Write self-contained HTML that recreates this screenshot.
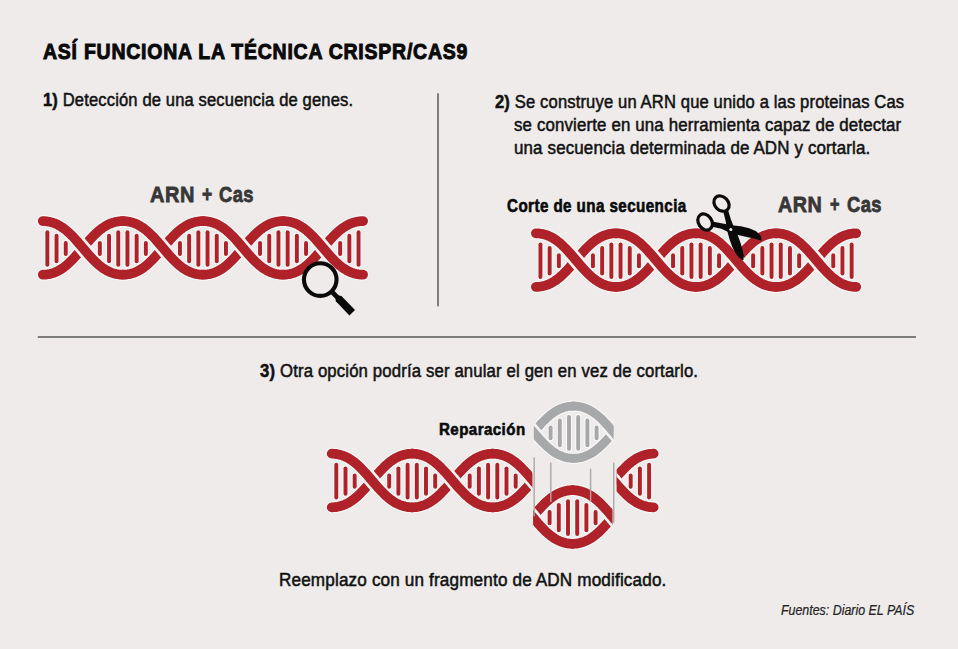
<!DOCTYPE html>
<html><head><meta charset="utf-8">
<style>
html,body{margin:0;padding:0;}
body{width:958px;height:649px;background:#eeebea;position:relative;overflow:hidden;font-family:"Liberation Sans",sans-serif;}
.t{position:absolute;white-space:nowrap;transform-origin:0 0;line-height:1;}
svg{position:absolute;left:0;top:0;}
</style></head><body>
<svg width="958" height="649" viewBox="0 0 958 649"><defs><clipPath id="cl1"><rect x="0" y="0" width="532.3" height="649"/><rect x="616.6" y="0" width="342" height="649"/></clipPath><clipPath id="cl2"><rect x="533.1" y="0" width="79.3" height="649"/></clipPath><clipPath id="cl3"><rect x="533.9" y="0" width="79.7" height="649"/></clipPath></defs>
<rect x="437" y="93.3" width="2" height="213" fill="#7d7d7d"/><rect x="37.8" y="336" width="878.2" height="2" fill="#7d7d7d"/><g fill="none" stroke="#fbfafa" stroke-linecap="round">
<path d="M42.75 274.70 L43.74 274.68 L44.73 274.64 L45.72 274.56 L46.71 274.46 L47.69 274.32 L48.68 274.15 L49.67 273.95 L50.66 273.71 L51.65 273.45 L52.64 273.15 L53.63 272.81 L54.62 272.45 L55.61 272.04 L56.59 271.60 L57.58 271.13 L58.57 270.62 L59.56 270.07 L60.55 269.48 L61.54 268.86 L62.53 268.19 L63.52 267.50 L64.51 266.76 L65.49 265.99 L66.48 265.18 L67.47 264.33 L68.46 263.46 L69.45 262.54 L70.44 261.60 L71.43 260.63 L72.42 259.62 L73.41 258.59 L74.39 257.54 L75.38 256.46 L76.37 255.36 L77.36 254.24 L78.35 253.11 L79.34 251.97 L80.33 250.81 L81.32 249.65 L82.31 248.48 L83.29 247.32 L84.28 246.15 L85.27 244.99 L86.26 243.83 L87.25 242.69 L88.24 241.56 L89.23 240.44 L90.22 239.34 L91.21 238.26 L92.19 237.21 L93.18 236.18 L94.17 235.17 L95.16 234.20 L96.15 233.26 L97.14 232.34 L98.13 231.47 L99.12 230.62 L100.11 229.81 L101.09 229.04 L102.08 228.30 L103.07 227.61 L104.06 226.94 L105.05 226.32 L106.04 225.73 L107.03 225.18 L108.02 224.67 L109.01 224.20 L109.99 223.76 L110.98 223.35 L111.97 222.99 L112.96 222.65 L113.95 222.35 L114.94 222.09 L115.93 221.85 L116.92 221.65 L117.91 221.48 L118.89 221.34 L119.88 221.24 L120.87 221.16 L121.86 221.12 L122.85 221.10" stroke-width="11.70"/>
<path d="M122.85 274.70 L123.84 274.68 L124.83 274.64 L125.82 274.56 L126.81 274.46 L127.79 274.32 L128.78 274.15 L129.77 273.95 L130.76 273.71 L131.75 273.45 L132.74 273.15 L133.73 272.81 L134.72 272.45 L135.71 272.04 L136.69 271.60 L137.68 271.13 L138.67 270.62 L139.66 270.07 L140.65 269.48 L141.64 268.86 L142.63 268.19 L143.62 267.50 L144.61 266.76 L145.59 265.99 L146.58 265.18 L147.57 264.33 L148.56 263.46 L149.55 262.54 L150.54 261.60 L151.53 260.63 L152.52 259.62 L153.51 258.59 L154.49 257.54 L155.48 256.46 L156.47 255.36 L157.46 254.24 L158.45 253.11 L159.44 251.97 L160.43 250.81 L161.42 249.65 L162.41 248.48 L163.39 247.32 L164.38 246.15 L165.37 244.99 L166.36 243.83 L167.35 242.69 L168.34 241.56 L169.33 240.44 L170.32 239.34 L171.31 238.26 L172.29 237.21 L173.28 236.18 L174.27 235.17 L175.26 234.20 L176.25 233.26 L177.24 232.34 L178.23 231.47 L179.22 230.62 L180.21 229.81 L181.19 229.04 L182.18 228.30 L183.17 227.61 L184.16 226.94 L185.15 226.32 L186.14 225.73 L187.13 225.18 L188.12 224.67 L189.11 224.20 L190.09 223.76 L191.08 223.35 L192.07 222.99 L193.06 222.65 L194.05 222.35 L195.04 222.09 L196.03 221.85 L197.02 221.65 L198.01 221.48 L198.99 221.34 L199.98 221.24 L200.97 221.16 L201.96 221.12 L202.95 221.10" stroke-width="11.70"/>
<path d="M202.95 274.70 L203.94 274.68 L204.93 274.64 L205.92 274.56 L206.91 274.46 L207.89 274.32 L208.88 274.15 L209.87 273.95 L210.86 273.71 L211.85 273.45 L212.84 273.15 L213.83 272.81 L214.82 272.45 L215.81 272.04 L216.79 271.60 L217.78 271.13 L218.77 270.62 L219.76 270.07 L220.75 269.48 L221.74 268.86 L222.73 268.19 L223.72 267.50 L224.71 266.76 L225.69 265.99 L226.68 265.18 L227.67 264.33 L228.66 263.46 L229.65 262.54 L230.64 261.60 L231.63 260.63 L232.62 259.62 L233.61 258.59 L234.59 257.54 L235.58 256.46 L236.57 255.36 L237.56 254.24 L238.55 253.11 L239.54 251.97 L240.53 250.81 L241.52 249.65 L242.51 248.48 L243.49 247.32 L244.48 246.15 L245.47 244.99 L246.46 243.83 L247.45 242.69 L248.44 241.56 L249.43 240.44 L250.42 239.34 L251.41 238.26 L252.39 237.21 L253.38 236.18 L254.37 235.17 L255.36 234.20 L256.35 233.26 L257.34 232.34 L258.33 231.47 L259.32 230.62 L260.31 229.81 L261.29 229.04 L262.28 228.30 L263.27 227.61 L264.26 226.94 L265.25 226.32 L266.24 225.73 L267.23 225.18 L268.22 224.67 L269.21 224.20 L270.19 223.76 L271.18 223.35 L272.17 222.99 L273.16 222.65 L274.15 222.35 L275.14 222.09 L276.13 221.85 L277.12 221.65 L278.11 221.48 L279.09 221.34 L280.08 221.24 L281.07 221.16 L282.06 221.12 L283.05 221.10" stroke-width="11.70"/>
<path d="M283.05 274.70 L284.04 274.68 L285.03 274.64 L286.02 274.56 L287.01 274.46 L287.99 274.32 L288.98 274.15 L289.97 273.95 L290.96 273.71 L291.95 273.45 L292.94 273.15 L293.93 272.81 L294.92 272.45 L295.91 272.04 L296.89 271.60 L297.88 271.13 L298.87 270.62 L299.86 270.07 L300.85 269.48 L301.84 268.86 L302.83 268.19 L303.82 267.50 L304.81 266.76 L305.79 265.99 L306.78 265.18 L307.77 264.33 L308.76 263.46 L309.75 262.54 L310.74 261.60 L311.73 260.63 L312.72 259.62 L313.71 258.59 L314.69 257.54 L315.68 256.46 L316.67 255.36 L317.66 254.24 L318.65 253.11 L319.64 251.97 L320.63 250.81 L321.62 249.65 L322.61 248.48 L323.59 247.32 L324.58 246.15 L325.57 244.99 L326.56 243.83 L327.55 242.69 L328.54 241.56 L329.53 240.44 L330.52 239.34 L331.51 238.26 L332.49 237.21 L333.48 236.18 L334.47 235.17 L335.46 234.20 L336.45 233.26 L337.44 232.34 L338.43 231.47 L339.42 230.62 L340.41 229.81 L341.39 229.04 L342.38 228.30 L343.37 227.61 L344.36 226.94 L345.35 226.32 L346.34 225.73 L347.33 225.18 L348.32 224.67 L349.31 224.20 L350.29 223.76 L351.28 223.35 L352.27 222.99 L353.26 222.65 L354.25 222.35 L355.24 222.09 L356.23 221.85 L357.22 221.65 L358.21 221.48 L359.19 221.34 L360.18 221.24 L361.17 221.16 L362.16 221.12 L363.15 221.10" stroke-width="11.70"/>
<path d="M42.75 221.10 L43.74 221.12 L44.73 221.16 L45.72 221.24 L46.71 221.34 L47.69 221.48 L48.68 221.65 L49.67 221.85 L50.66 222.09 L51.65 222.35 L52.64 222.65 L53.63 222.99 L54.62 223.35 L55.61 223.76 L56.59 224.20 L57.58 224.67 L58.57 225.18 L59.56 225.73 L60.55 226.32 L61.54 226.94 L62.53 227.61 L63.52 228.30 L64.51 229.04 L65.49 229.81 L66.48 230.62 L67.47 231.47 L68.46 232.34 L69.45 233.26 L70.44 234.20 L71.43 235.17 L72.42 236.18 L73.41 237.21 L74.39 238.26 L75.38 239.34 L76.37 240.44 L77.36 241.56 L78.35 242.69 L79.34 243.83 L80.33 244.99 L81.32 246.15 L82.31 247.32 L83.29 248.48 L84.28 249.65 L85.27 250.81 L86.26 251.97 L87.25 253.11 L88.24 254.24 L89.23 255.36 L90.22 256.46 L91.21 257.54 L92.19 258.59 L93.18 259.62 L94.17 260.63 L95.16 261.60 L96.15 262.54 L97.14 263.46 L98.13 264.33 L99.12 265.18 L100.11 265.99 L101.09 266.76 L102.08 267.50 L103.07 268.19 L104.06 268.86 L105.05 269.48 L106.04 270.07 L107.03 270.62 L108.02 271.13 L109.01 271.60 L109.99 272.04 L110.98 272.45 L111.97 272.81 L112.96 273.15 L113.95 273.45 L114.94 273.71 L115.93 273.95 L116.92 274.15 L117.91 274.32 L118.89 274.46 L119.88 274.56 L120.87 274.64 L121.86 274.68 L122.85 274.70" stroke-width="11.70"/>
<path d="M122.85 221.10 L123.84 221.12 L124.83 221.16 L125.82 221.24 L126.81 221.34 L127.79 221.48 L128.78 221.65 L129.77 221.85 L130.76 222.09 L131.75 222.35 L132.74 222.65 L133.73 222.99 L134.72 223.35 L135.71 223.76 L136.69 224.20 L137.68 224.67 L138.67 225.18 L139.66 225.73 L140.65 226.32 L141.64 226.94 L142.63 227.61 L143.62 228.30 L144.61 229.04 L145.59 229.81 L146.58 230.62 L147.57 231.47 L148.56 232.34 L149.55 233.26 L150.54 234.20 L151.53 235.17 L152.52 236.18 L153.51 237.21 L154.49 238.26 L155.48 239.34 L156.47 240.44 L157.46 241.56 L158.45 242.69 L159.44 243.83 L160.43 244.99 L161.42 246.15 L162.41 247.32 L163.39 248.48 L164.38 249.65 L165.37 250.81 L166.36 251.97 L167.35 253.11 L168.34 254.24 L169.33 255.36 L170.32 256.46 L171.31 257.54 L172.29 258.59 L173.28 259.62 L174.27 260.63 L175.26 261.60 L176.25 262.54 L177.24 263.46 L178.23 264.33 L179.22 265.18 L180.21 265.99 L181.19 266.76 L182.18 267.50 L183.17 268.19 L184.16 268.86 L185.15 269.48 L186.14 270.07 L187.13 270.62 L188.12 271.13 L189.11 271.60 L190.09 272.04 L191.08 272.45 L192.07 272.81 L193.06 273.15 L194.05 273.45 L195.04 273.71 L196.03 273.95 L197.02 274.15 L198.01 274.32 L198.99 274.46 L199.98 274.56 L200.97 274.64 L201.96 274.68 L202.95 274.70" stroke-width="11.70"/>
<path d="M202.95 221.10 L203.94 221.12 L204.93 221.16 L205.92 221.24 L206.91 221.34 L207.89 221.48 L208.88 221.65 L209.87 221.85 L210.86 222.09 L211.85 222.35 L212.84 222.65 L213.83 222.99 L214.82 223.35 L215.81 223.76 L216.79 224.20 L217.78 224.67 L218.77 225.18 L219.76 225.73 L220.75 226.32 L221.74 226.94 L222.73 227.61 L223.72 228.30 L224.71 229.04 L225.69 229.81 L226.68 230.62 L227.67 231.47 L228.66 232.34 L229.65 233.26 L230.64 234.20 L231.63 235.17 L232.62 236.18 L233.61 237.21 L234.59 238.26 L235.58 239.34 L236.57 240.44 L237.56 241.56 L238.55 242.69 L239.54 243.83 L240.53 244.99 L241.52 246.15 L242.51 247.32 L243.49 248.48 L244.48 249.65 L245.47 250.81 L246.46 251.97 L247.45 253.11 L248.44 254.24 L249.43 255.36 L250.42 256.46 L251.41 257.54 L252.39 258.59 L253.38 259.62 L254.37 260.63 L255.36 261.60 L256.35 262.54 L257.34 263.46 L258.33 264.33 L259.32 265.18 L260.31 265.99 L261.29 266.76 L262.28 267.50 L263.27 268.19 L264.26 268.86 L265.25 269.48 L266.24 270.07 L267.23 270.62 L268.22 271.13 L269.21 271.60 L270.19 272.04 L271.18 272.45 L272.17 272.81 L273.16 273.15 L274.15 273.45 L275.14 273.71 L276.13 273.95 L277.12 274.15 L278.11 274.32 L279.09 274.46 L280.08 274.56 L281.07 274.64 L282.06 274.68 L283.05 274.70" stroke-width="11.70"/>
<path d="M283.05 221.10 L284.04 221.12 L285.03 221.16 L286.02 221.24 L287.01 221.34 L287.99 221.48 L288.98 221.65 L289.97 221.85 L290.96 222.09 L291.95 222.35 L292.94 222.65 L293.93 222.99 L294.92 223.35 L295.91 223.76 L296.89 224.20 L297.88 224.67 L298.87 225.18 L299.86 225.73 L300.85 226.32 L301.84 226.94 L302.83 227.61 L303.82 228.30 L304.81 229.04 L305.79 229.81 L306.78 230.62 L307.77 231.47 L308.76 232.34 L309.75 233.26 L310.74 234.20 L311.73 235.17 L312.72 236.18 L313.71 237.21 L314.69 238.26 L315.68 239.34 L316.67 240.44 L317.66 241.56 L318.65 242.69 L319.64 243.83 L320.63 244.99 L321.62 246.15 L322.61 247.32 L323.59 248.48 L324.58 249.65 L325.57 250.81 L326.56 251.97 L327.55 253.11 L328.54 254.24 L329.53 255.36 L330.52 256.46 L331.51 257.54 L332.49 258.59 L333.48 259.62 L334.47 260.63 L335.46 261.60 L336.45 262.54 L337.44 263.46 L338.43 264.33 L339.42 265.18 L340.41 265.99 L341.39 266.76 L342.38 267.50 L343.37 268.19 L344.36 268.86 L345.35 269.48 L346.34 270.07 L347.33 270.62 L348.32 271.13 L349.31 271.60 L350.29 272.04 L351.28 272.45 L352.27 272.81 L353.26 273.15 L354.25 273.45 L355.24 273.71 L356.23 273.95 L357.22 274.15 L358.21 274.32 L359.19 274.46 L360.18 274.56 L361.17 274.64 L362.16 274.68 L363.15 274.70" stroke-width="11.70"/>
<path d="M47.35 232.15 L47.35 264.85" stroke-width="5.95"/>
<path d="M56.55 235.75 L56.55 261.25" stroke-width="5.95"/>
<path d="M65.75 242.95 L65.75 254.05" stroke-width="5.95"/>
<path d="M118.25 232.15 L118.25 264.85" stroke-width="5.95"/>
<path d="M127.45 232.15 L127.45 264.85" stroke-width="5.95"/>
<path d="M109.05 235.75 L109.05 261.25" stroke-width="5.95"/>
<path d="M136.65 235.75 L136.65 261.25" stroke-width="5.95"/>
<path d="M99.85 242.95 L99.85 254.05" stroke-width="5.95"/>
<path d="M145.85 242.95 L145.85 254.05" stroke-width="5.95"/>
<path d="M198.35 232.15 L198.35 264.85" stroke-width="5.95"/>
<path d="M207.55 232.15 L207.55 264.85" stroke-width="5.95"/>
<path d="M189.15 235.75 L189.15 261.25" stroke-width="5.95"/>
<path d="M216.75 235.75 L216.75 261.25" stroke-width="5.95"/>
<path d="M179.95 242.95 L179.95 254.05" stroke-width="5.95"/>
<path d="M225.95 242.95 L225.95 254.05" stroke-width="5.95"/>
<path d="M278.45 232.15 L278.45 264.85" stroke-width="5.95"/>
<path d="M287.65 232.15 L287.65 264.85" stroke-width="5.95"/>
<path d="M269.25 235.75 L269.25 261.25" stroke-width="5.95"/>
<path d="M296.85 235.75 L296.85 261.25" stroke-width="5.95"/>
<path d="M260.05 242.95 L260.05 254.05" stroke-width="5.95"/>
<path d="M306.05 242.95 L306.05 254.05" stroke-width="5.95"/>
<path d="M358.55 232.15 L358.55 264.85" stroke-width="5.95"/>
<path d="M349.35 235.75 L349.35 261.25" stroke-width="5.95"/>
<path d="M340.15 242.95 L340.15 254.05" stroke-width="5.95"/>
</g>
<g fill="none" stroke-linecap="round">
<path d="M47.35 232.15 L47.35 264.85" stroke="#b02229" stroke-width="3.95"/>
<path d="M56.55 235.75 L56.55 261.25" stroke="#b02229" stroke-width="3.95"/>
<path d="M65.75 242.95 L65.75 254.05" stroke="#b02229" stroke-width="3.95"/>
<path d="M118.25 232.15 L118.25 264.85" stroke="#b02229" stroke-width="3.95"/>
<path d="M127.45 232.15 L127.45 264.85" stroke="#b02229" stroke-width="3.95"/>
<path d="M109.05 235.75 L109.05 261.25" stroke="#b02229" stroke-width="3.95"/>
<path d="M136.65 235.75 L136.65 261.25" stroke="#b02229" stroke-width="3.95"/>
<path d="M99.85 242.95 L99.85 254.05" stroke="#b02229" stroke-width="3.95"/>
<path d="M145.85 242.95 L145.85 254.05" stroke="#b02229" stroke-width="3.95"/>
<path d="M198.35 232.15 L198.35 264.85" stroke="#b02229" stroke-width="3.95"/>
<path d="M207.55 232.15 L207.55 264.85" stroke="#b02229" stroke-width="3.95"/>
<path d="M189.15 235.75 L189.15 261.25" stroke="#b02229" stroke-width="3.95"/>
<path d="M216.75 235.75 L216.75 261.25" stroke="#b02229" stroke-width="3.95"/>
<path d="M179.95 242.95 L179.95 254.05" stroke="#b02229" stroke-width="3.95"/>
<path d="M225.95 242.95 L225.95 254.05" stroke="#b02229" stroke-width="3.95"/>
<path d="M278.45 232.15 L278.45 264.85" stroke="#b02229" stroke-width="3.95"/>
<path d="M287.65 232.15 L287.65 264.85" stroke="#b02229" stroke-width="3.95"/>
<path d="M269.25 235.75 L269.25 261.25" stroke="#b02229" stroke-width="3.95"/>
<path d="M296.85 235.75 L296.85 261.25" stroke="#b02229" stroke-width="3.95"/>
<path d="M260.05 242.95 L260.05 254.05" stroke="#b02229" stroke-width="3.95"/>
<path d="M306.05 242.95 L306.05 254.05" stroke="#b02229" stroke-width="3.95"/>
<path d="M358.55 232.15 L358.55 264.85" stroke="#b02229" stroke-width="3.95"/>
<path d="M349.35 235.75 L349.35 261.25" stroke="#b02229" stroke-width="3.95"/>
<path d="M340.15 242.95 L340.15 254.05" stroke="#b02229" stroke-width="3.95"/>
<path d="M42.75 274.70 L43.74 274.68 L44.73 274.64 L45.72 274.56 L46.71 274.46 L47.69 274.32 L48.68 274.15 L49.67 273.95 L50.66 273.71 L51.65 273.45 L52.64 273.15 L53.63 272.81 L54.62 272.45 L55.61 272.04 L56.59 271.60 L57.58 271.13 L58.57 270.62 L59.56 270.07 L60.55 269.48 L61.54 268.86 L62.53 268.19 L63.52 267.50 L64.51 266.76 L65.49 265.99 L66.48 265.18 L67.47 264.33 L68.46 263.46 L69.45 262.54 L70.44 261.60 L71.43 260.63 L72.42 259.62 L73.41 258.59 L74.39 257.54 L75.38 256.46 L76.37 255.36 L77.36 254.24 L78.35 253.11 L79.34 251.97 L80.33 250.81 L81.32 249.65 L82.31 248.48 L83.29 247.32 L84.28 246.15 L85.27 244.99 L86.26 243.83 L87.25 242.69 L88.24 241.56 L89.23 240.44 L90.22 239.34 L91.21 238.26 L92.19 237.21 L93.18 236.18 L94.17 235.17 L95.16 234.20 L96.15 233.26 L97.14 232.34 L98.13 231.47 L99.12 230.62 L100.11 229.81 L101.09 229.04 L102.08 228.30 L103.07 227.61 L104.06 226.94 L105.05 226.32 L106.04 225.73 L107.03 225.18 L108.02 224.67 L109.01 224.20 L109.99 223.76 L110.98 223.35 L111.97 222.99 L112.96 222.65 L113.95 222.35 L114.94 222.09 L115.93 221.85 L116.92 221.65 L117.91 221.48 L118.89 221.34 L119.88 221.24 L120.87 221.16 L121.86 221.12 L122.85 221.10" stroke="#b02229" stroke-width="9.70"/>
<path d="M122.85 274.70 L123.84 274.68 L124.83 274.64 L125.82 274.56 L126.81 274.46 L127.79 274.32 L128.78 274.15 L129.77 273.95 L130.76 273.71 L131.75 273.45 L132.74 273.15 L133.73 272.81 L134.72 272.45 L135.71 272.04 L136.69 271.60 L137.68 271.13 L138.67 270.62 L139.66 270.07 L140.65 269.48 L141.64 268.86 L142.63 268.19 L143.62 267.50 L144.61 266.76 L145.59 265.99 L146.58 265.18 L147.57 264.33 L148.56 263.46 L149.55 262.54 L150.54 261.60 L151.53 260.63 L152.52 259.62 L153.51 258.59 L154.49 257.54 L155.48 256.46 L156.47 255.36 L157.46 254.24 L158.45 253.11 L159.44 251.97 L160.43 250.81 L161.42 249.65 L162.41 248.48 L163.39 247.32 L164.38 246.15 L165.37 244.99 L166.36 243.83 L167.35 242.69 L168.34 241.56 L169.33 240.44 L170.32 239.34 L171.31 238.26 L172.29 237.21 L173.28 236.18 L174.27 235.17 L175.26 234.20 L176.25 233.26 L177.24 232.34 L178.23 231.47 L179.22 230.62 L180.21 229.81 L181.19 229.04 L182.18 228.30 L183.17 227.61 L184.16 226.94 L185.15 226.32 L186.14 225.73 L187.13 225.18 L188.12 224.67 L189.11 224.20 L190.09 223.76 L191.08 223.35 L192.07 222.99 L193.06 222.65 L194.05 222.35 L195.04 222.09 L196.03 221.85 L197.02 221.65 L198.01 221.48 L198.99 221.34 L199.98 221.24 L200.97 221.16 L201.96 221.12 L202.95 221.10" stroke="#b02229" stroke-width="9.70"/>
<path d="M202.95 274.70 L203.94 274.68 L204.93 274.64 L205.92 274.56 L206.91 274.46 L207.89 274.32 L208.88 274.15 L209.87 273.95 L210.86 273.71 L211.85 273.45 L212.84 273.15 L213.83 272.81 L214.82 272.45 L215.81 272.04 L216.79 271.60 L217.78 271.13 L218.77 270.62 L219.76 270.07 L220.75 269.48 L221.74 268.86 L222.73 268.19 L223.72 267.50 L224.71 266.76 L225.69 265.99 L226.68 265.18 L227.67 264.33 L228.66 263.46 L229.65 262.54 L230.64 261.60 L231.63 260.63 L232.62 259.62 L233.61 258.59 L234.59 257.54 L235.58 256.46 L236.57 255.36 L237.56 254.24 L238.55 253.11 L239.54 251.97 L240.53 250.81 L241.52 249.65 L242.51 248.48 L243.49 247.32 L244.48 246.15 L245.47 244.99 L246.46 243.83 L247.45 242.69 L248.44 241.56 L249.43 240.44 L250.42 239.34 L251.41 238.26 L252.39 237.21 L253.38 236.18 L254.37 235.17 L255.36 234.20 L256.35 233.26 L257.34 232.34 L258.33 231.47 L259.32 230.62 L260.31 229.81 L261.29 229.04 L262.28 228.30 L263.27 227.61 L264.26 226.94 L265.25 226.32 L266.24 225.73 L267.23 225.18 L268.22 224.67 L269.21 224.20 L270.19 223.76 L271.18 223.35 L272.17 222.99 L273.16 222.65 L274.15 222.35 L275.14 222.09 L276.13 221.85 L277.12 221.65 L278.11 221.48 L279.09 221.34 L280.08 221.24 L281.07 221.16 L282.06 221.12 L283.05 221.10" stroke="#b02229" stroke-width="9.70"/>
<path d="M283.05 274.70 L284.04 274.68 L285.03 274.64 L286.02 274.56 L287.01 274.46 L287.99 274.32 L288.98 274.15 L289.97 273.95 L290.96 273.71 L291.95 273.45 L292.94 273.15 L293.93 272.81 L294.92 272.45 L295.91 272.04 L296.89 271.60 L297.88 271.13 L298.87 270.62 L299.86 270.07 L300.85 269.48 L301.84 268.86 L302.83 268.19 L303.82 267.50 L304.81 266.76 L305.79 265.99 L306.78 265.18 L307.77 264.33 L308.76 263.46 L309.75 262.54 L310.74 261.60 L311.73 260.63 L312.72 259.62 L313.71 258.59 L314.69 257.54 L315.68 256.46 L316.67 255.36 L317.66 254.24 L318.65 253.11 L319.64 251.97 L320.63 250.81 L321.62 249.65 L322.61 248.48 L323.59 247.32 L324.58 246.15 L325.57 244.99 L326.56 243.83 L327.55 242.69 L328.54 241.56 L329.53 240.44 L330.52 239.34 L331.51 238.26 L332.49 237.21 L333.48 236.18 L334.47 235.17 L335.46 234.20 L336.45 233.26 L337.44 232.34 L338.43 231.47 L339.42 230.62 L340.41 229.81 L341.39 229.04 L342.38 228.30 L343.37 227.61 L344.36 226.94 L345.35 226.32 L346.34 225.73 L347.33 225.18 L348.32 224.67 L349.31 224.20 L350.29 223.76 L351.28 223.35 L352.27 222.99 L353.26 222.65 L354.25 222.35 L355.24 222.09 L356.23 221.85 L357.22 221.65 L358.21 221.48 L359.19 221.34 L360.18 221.24 L361.17 221.16 L362.16 221.12 L363.15 221.10" stroke="#b02229" stroke-width="9.70"/>
<path d="M75.80 239.80 L76.28 240.34 L76.77 240.88 L77.25 241.43 L77.73 241.98 L78.21 242.53 L78.70 243.09 L79.18 243.65 L79.66 244.21 L80.14 244.77 L80.63 245.34 L81.11 245.91 L81.59 246.48 L82.08 247.04 L82.56 247.61 L83.04 248.19 L83.52 248.76 L84.01 249.32 L84.49 249.89 L84.97 250.46 L85.46 251.03 L85.94 251.59 L86.42 252.15 L86.90 252.71 L87.39 253.27 L87.87 253.82 L88.35 254.37 L88.83 254.92 L89.32 255.46 L89.80 256.00" stroke="#f4f2f1" stroke-linecap="butt" stroke-width="15.10"/>
<path d="M42.75 221.10 L43.74 221.12 L44.73 221.16 L45.72 221.24 L46.71 221.34 L47.69 221.48 L48.68 221.65 L49.67 221.85 L50.66 222.09 L51.65 222.35 L52.64 222.65 L53.63 222.99 L54.62 223.35 L55.61 223.76 L56.59 224.20 L57.58 224.67 L58.57 225.18 L59.56 225.73 L60.55 226.32 L61.54 226.94 L62.53 227.61 L63.52 228.30 L64.51 229.04 L65.49 229.81 L66.48 230.62 L67.47 231.47 L68.46 232.34 L69.45 233.26 L70.44 234.20 L71.43 235.17 L72.42 236.18 L73.41 237.21 L74.39 238.26 L75.38 239.34 L76.37 240.44 L77.36 241.56 L78.35 242.69 L79.34 243.83 L80.33 244.99 L81.32 246.15 L82.31 247.32 L83.29 248.48 L84.28 249.65 L85.27 250.81 L86.26 251.97 L87.25 253.11 L88.24 254.24 L89.23 255.36 L90.22 256.46 L91.21 257.54 L92.19 258.59 L93.18 259.62 L94.17 260.63 L95.16 261.60 L96.15 262.54 L97.14 263.46 L98.13 264.33 L99.12 265.18 L100.11 265.99 L101.09 266.76 L102.08 267.50 L103.07 268.19 L104.06 268.86 L105.05 269.48 L106.04 270.07 L107.03 270.62 L108.02 271.13 L109.01 271.60 L109.99 272.04 L110.98 272.45 L111.97 272.81 L112.96 273.15 L113.95 273.45 L114.94 273.71 L115.93 273.95 L116.92 274.15 L117.91 274.32 L118.89 274.46 L119.88 274.56 L120.87 274.64 L121.86 274.68 L122.85 274.70" stroke="#b02229" stroke-width="9.70"/>
<path d="M155.90 239.80 L156.38 240.34 L156.87 240.88 L157.35 241.43 L157.83 241.98 L158.31 242.53 L158.80 243.09 L159.28 243.65 L159.76 244.21 L160.24 244.77 L160.73 245.34 L161.21 245.91 L161.69 246.48 L162.18 247.04 L162.66 247.61 L163.14 248.19 L163.62 248.76 L164.11 249.32 L164.59 249.89 L165.07 250.46 L165.56 251.03 L166.04 251.59 L166.52 252.15 L167.00 252.71 L167.49 253.27 L167.97 253.82 L168.45 254.37 L168.93 254.92 L169.42 255.46 L169.90 256.00" stroke="#f4f2f1" stroke-linecap="butt" stroke-width="15.10"/>
<path d="M122.85 221.10 L123.84 221.12 L124.83 221.16 L125.82 221.24 L126.81 221.34 L127.79 221.48 L128.78 221.65 L129.77 221.85 L130.76 222.09 L131.75 222.35 L132.74 222.65 L133.73 222.99 L134.72 223.35 L135.71 223.76 L136.69 224.20 L137.68 224.67 L138.67 225.18 L139.66 225.73 L140.65 226.32 L141.64 226.94 L142.63 227.61 L143.62 228.30 L144.61 229.04 L145.59 229.81 L146.58 230.62 L147.57 231.47 L148.56 232.34 L149.55 233.26 L150.54 234.20 L151.53 235.17 L152.52 236.18 L153.51 237.21 L154.49 238.26 L155.48 239.34 L156.47 240.44 L157.46 241.56 L158.45 242.69 L159.44 243.83 L160.43 244.99 L161.42 246.15 L162.41 247.32 L163.39 248.48 L164.38 249.65 L165.37 250.81 L166.36 251.97 L167.35 253.11 L168.34 254.24 L169.33 255.36 L170.32 256.46 L171.31 257.54 L172.29 258.59 L173.28 259.62 L174.27 260.63 L175.26 261.60 L176.25 262.54 L177.24 263.46 L178.23 264.33 L179.22 265.18 L180.21 265.99 L181.19 266.76 L182.18 267.50 L183.17 268.19 L184.16 268.86 L185.15 269.48 L186.14 270.07 L187.13 270.62 L188.12 271.13 L189.11 271.60 L190.09 272.04 L191.08 272.45 L192.07 272.81 L193.06 273.15 L194.05 273.45 L195.04 273.71 L196.03 273.95 L197.02 274.15 L198.01 274.32 L198.99 274.46 L199.98 274.56 L200.97 274.64 L201.96 274.68 L202.95 274.70" stroke="#b02229" stroke-width="9.70"/>
<path d="M236.00 239.80 L236.48 240.34 L236.97 240.88 L237.45 241.43 L237.93 241.98 L238.41 242.53 L238.90 243.09 L239.38 243.65 L239.86 244.21 L240.34 244.77 L240.83 245.34 L241.31 245.91 L241.79 246.48 L242.28 247.04 L242.76 247.61 L243.24 248.19 L243.72 248.76 L244.21 249.32 L244.69 249.89 L245.17 250.46 L245.66 251.03 L246.14 251.59 L246.62 252.15 L247.10 252.71 L247.59 253.27 L248.07 253.82 L248.55 254.37 L249.03 254.92 L249.52 255.46 L250.00 256.00" stroke="#f4f2f1" stroke-linecap="butt" stroke-width="15.10"/>
<path d="M202.95 221.10 L203.94 221.12 L204.93 221.16 L205.92 221.24 L206.91 221.34 L207.89 221.48 L208.88 221.65 L209.87 221.85 L210.86 222.09 L211.85 222.35 L212.84 222.65 L213.83 222.99 L214.82 223.35 L215.81 223.76 L216.79 224.20 L217.78 224.67 L218.77 225.18 L219.76 225.73 L220.75 226.32 L221.74 226.94 L222.73 227.61 L223.72 228.30 L224.71 229.04 L225.69 229.81 L226.68 230.62 L227.67 231.47 L228.66 232.34 L229.65 233.26 L230.64 234.20 L231.63 235.17 L232.62 236.18 L233.61 237.21 L234.59 238.26 L235.58 239.34 L236.57 240.44 L237.56 241.56 L238.55 242.69 L239.54 243.83 L240.53 244.99 L241.52 246.15 L242.51 247.32 L243.49 248.48 L244.48 249.65 L245.47 250.81 L246.46 251.97 L247.45 253.11 L248.44 254.24 L249.43 255.36 L250.42 256.46 L251.41 257.54 L252.39 258.59 L253.38 259.62 L254.37 260.63 L255.36 261.60 L256.35 262.54 L257.34 263.46 L258.33 264.33 L259.32 265.18 L260.31 265.99 L261.29 266.76 L262.28 267.50 L263.27 268.19 L264.26 268.86 L265.25 269.48 L266.24 270.07 L267.23 270.62 L268.22 271.13 L269.21 271.60 L270.19 272.04 L271.18 272.45 L272.17 272.81 L273.16 273.15 L274.15 273.45 L275.14 273.71 L276.13 273.95 L277.12 274.15 L278.11 274.32 L279.09 274.46 L280.08 274.56 L281.07 274.64 L282.06 274.68 L283.05 274.70" stroke="#b02229" stroke-width="9.70"/>
<path d="M316.10 239.80 L316.58 240.34 L317.07 240.88 L317.55 241.43 L318.03 241.98 L318.51 242.53 L319.00 243.09 L319.48 243.65 L319.96 244.21 L320.44 244.77 L320.93 245.34 L321.41 245.91 L321.89 246.48 L322.38 247.04 L322.86 247.61 L323.34 248.19 L323.82 248.76 L324.31 249.32 L324.79 249.89 L325.27 250.46 L325.76 251.03 L326.24 251.59 L326.72 252.15 L327.20 252.71 L327.69 253.27 L328.17 253.82 L328.65 254.37 L329.13 254.92 L329.62 255.46 L330.10 256.00" stroke="#f4f2f1" stroke-linecap="butt" stroke-width="15.10"/>
<path d="M283.05 221.10 L284.04 221.12 L285.03 221.16 L286.02 221.24 L287.01 221.34 L287.99 221.48 L288.98 221.65 L289.97 221.85 L290.96 222.09 L291.95 222.35 L292.94 222.65 L293.93 222.99 L294.92 223.35 L295.91 223.76 L296.89 224.20 L297.88 224.67 L298.87 225.18 L299.86 225.73 L300.85 226.32 L301.84 226.94 L302.83 227.61 L303.82 228.30 L304.81 229.04 L305.79 229.81 L306.78 230.62 L307.77 231.47 L308.76 232.34 L309.75 233.26 L310.74 234.20 L311.73 235.17 L312.72 236.18 L313.71 237.21 L314.69 238.26 L315.68 239.34 L316.67 240.44 L317.66 241.56 L318.65 242.69 L319.64 243.83 L320.63 244.99 L321.62 246.15 L322.61 247.32 L323.59 248.48 L324.58 249.65 L325.57 250.81 L326.56 251.97 L327.55 253.11 L328.54 254.24 L329.53 255.36 L330.52 256.46 L331.51 257.54 L332.49 258.59 L333.48 259.62 L334.47 260.63 L335.46 261.60 L336.45 262.54 L337.44 263.46 L338.43 264.33 L339.42 265.18 L340.41 265.99 L341.39 266.76 L342.38 267.50 L343.37 268.19 L344.36 268.86 L345.35 269.48 L346.34 270.07 L347.33 270.62 L348.32 271.13 L349.31 271.60 L350.29 272.04 L351.28 272.45 L352.27 272.81 L353.26 273.15 L354.25 273.45 L355.24 273.71 L356.23 273.95 L357.22 274.15 L358.21 274.32 L359.19 274.46 L360.18 274.56 L361.17 274.64 L362.16 274.68 L363.15 274.70" stroke="#b02229" stroke-width="9.70"/>
</g><circle cx="320.25" cy="279.6" r="16.3" fill="#eeebea" stroke="#0a0a0a" stroke-width="4.1"/><g transform="translate(320.25 279.6) rotate(46)"><rect x="17" y="-2.4" width="9" height="4.8" fill="#0a0a0a"/><path d="M24.5 -2.4 L26.5 -3.9 L46 -3.9 L46 3.9 L26.5 3.9 L24.5 2.4 Z" fill="#0a0a0a"/></g><g fill="none" stroke="#fbfafa" stroke-linecap="round">
<path d="M535.85 286.90 L536.84 286.88 L537.83 286.84 L538.82 286.76 L539.81 286.66 L540.79 286.52 L541.78 286.35 L542.77 286.15 L543.76 285.91 L544.75 285.65 L545.74 285.35 L546.73 285.01 L547.72 284.65 L548.71 284.24 L549.69 283.80 L550.68 283.33 L551.67 282.82 L552.66 282.27 L553.65 281.68 L554.64 281.06 L555.63 280.39 L556.62 279.70 L557.61 278.96 L558.59 278.19 L559.58 277.38 L560.57 276.53 L561.56 275.66 L562.55 274.74 L563.54 273.80 L564.53 272.83 L565.52 271.82 L566.51 270.79 L567.49 269.74 L568.48 268.66 L569.47 267.56 L570.46 266.44 L571.45 265.31 L572.44 264.17 L573.43 263.01 L574.42 261.85 L575.41 260.68 L576.39 259.52 L577.38 258.35 L578.37 257.19 L579.36 256.03 L580.35 254.89 L581.34 253.76 L582.33 252.64 L583.32 251.54 L584.31 250.46 L585.29 249.41 L586.28 248.38 L587.27 247.37 L588.26 246.40 L589.25 245.46 L590.24 244.54 L591.23 243.67 L592.22 242.82 L593.21 242.01 L594.19 241.24 L595.18 240.50 L596.17 239.81 L597.16 239.14 L598.15 238.52 L599.14 237.93 L600.13 237.38 L601.12 236.87 L602.11 236.40 L603.09 235.96 L604.08 235.55 L605.07 235.19 L606.06 234.85 L607.05 234.55 L608.04 234.29 L609.03 234.05 L610.02 233.85 L611.01 233.68 L611.99 233.54 L612.98 233.44 L613.97 233.36 L614.96 233.32 L615.95 233.30" stroke-width="11.70"/>
<path d="M615.95 286.90 L616.94 286.88 L617.93 286.84 L618.92 286.76 L619.91 286.66 L620.89 286.52 L621.88 286.35 L622.87 286.15 L623.86 285.91 L624.85 285.65 L625.84 285.35 L626.83 285.01 L627.82 284.65 L628.81 284.24 L629.79 283.80 L630.78 283.33 L631.77 282.82 L632.76 282.27 L633.75 281.68 L634.74 281.06 L635.73 280.39 L636.72 279.70 L637.71 278.96 L638.69 278.19 L639.68 277.38 L640.67 276.53 L641.66 275.66 L642.65 274.74 L643.64 273.80 L644.63 272.83 L645.62 271.82 L646.61 270.79 L647.59 269.74 L648.58 268.66 L649.57 267.56 L650.56 266.44 L651.55 265.31 L652.54 264.17 L653.53 263.01 L654.52 261.85 L655.51 260.68 L656.49 259.52 L657.48 258.35 L658.47 257.19 L659.46 256.03 L660.45 254.89 L661.44 253.76 L662.43 252.64 L663.42 251.54 L664.41 250.46 L665.39 249.41 L666.38 248.38 L667.37 247.37 L668.36 246.40 L669.35 245.46 L670.34 244.54 L671.33 243.67 L672.32 242.82 L673.31 242.01 L674.29 241.24 L675.28 240.50 L676.27 239.81 L677.26 239.14 L678.25 238.52 L679.24 237.93 L680.23 237.38 L681.22 236.87 L682.21 236.40 L683.19 235.96 L684.18 235.55 L685.17 235.19 L686.16 234.85 L687.15 234.55 L688.14 234.29 L689.13 234.05 L690.12 233.85 L691.11 233.68 L692.09 233.54 L693.08 233.44 L694.07 233.36 L695.06 233.32 L696.05 233.30" stroke-width="11.70"/>
<path d="M696.05 286.90 L697.04 286.88 L698.03 286.84 L699.02 286.76 L700.01 286.66 L700.99 286.52 L701.98 286.35 L702.97 286.15 L703.96 285.91 L704.95 285.65 L705.94 285.35 L706.93 285.01 L707.92 284.65 L708.91 284.24 L709.89 283.80 L710.88 283.33 L711.87 282.82 L712.86 282.27 L713.85 281.68 L714.84 281.06 L715.83 280.39 L716.82 279.70 L717.81 278.96 L718.79 278.19 L719.78 277.38 L720.77 276.53 L721.76 275.66 L722.75 274.74 L723.74 273.80 L724.73 272.83 L725.72 271.82 L726.71 270.79 L727.69 269.74 L728.68 268.66 L729.67 267.56 L730.66 266.44 L731.65 265.31 L732.64 264.17 L733.63 263.01 L734.62 261.85 L735.61 260.68 L736.59 259.52 L737.58 258.35 L738.57 257.19 L739.56 256.03 L740.55 254.89 L741.54 253.76 L742.53 252.64 L743.52 251.54 L744.51 250.46 L745.49 249.41 L746.48 248.38 L747.47 247.37 L748.46 246.40 L749.45 245.46 L750.44 244.54 L751.43 243.67 L752.42 242.82 L753.41 242.01 L754.39 241.24 L755.38 240.50 L756.37 239.81 L757.36 239.14 L758.35 238.52 L759.34 237.93 L760.33 237.38 L761.32 236.87 L762.31 236.40 L763.29 235.96 L764.28 235.55 L765.27 235.19 L766.26 234.85 L767.25 234.55 L768.24 234.29 L769.23 234.05 L770.22 233.85 L771.21 233.68 L772.19 233.54 L773.18 233.44 L774.17 233.36 L775.16 233.32 L776.15 233.30" stroke-width="11.70"/>
<path d="M776.15 286.90 L777.14 286.88 L778.13 286.84 L779.12 286.76 L780.11 286.66 L781.09 286.52 L782.08 286.35 L783.07 286.15 L784.06 285.91 L785.05 285.65 L786.04 285.35 L787.03 285.01 L788.02 284.65 L789.01 284.24 L789.99 283.80 L790.98 283.33 L791.97 282.82 L792.96 282.27 L793.95 281.68 L794.94 281.06 L795.93 280.39 L796.92 279.70 L797.91 278.96 L798.89 278.19 L799.88 277.38 L800.87 276.53 L801.86 275.66 L802.85 274.74 L803.84 273.80 L804.83 272.83 L805.82 271.82 L806.81 270.79 L807.79 269.74 L808.78 268.66 L809.77 267.56 L810.76 266.44 L811.75 265.31 L812.74 264.17 L813.73 263.01 L814.72 261.85 L815.71 260.68 L816.69 259.52 L817.68 258.35 L818.67 257.19 L819.66 256.03 L820.65 254.89 L821.64 253.76 L822.63 252.64 L823.62 251.54 L824.61 250.46 L825.59 249.41 L826.58 248.38 L827.57 247.37 L828.56 246.40 L829.55 245.46 L830.54 244.54 L831.53 243.67 L832.52 242.82 L833.51 242.01 L834.49 241.24 L835.48 240.50 L836.47 239.81 L837.46 239.14 L838.45 238.52 L839.44 237.93 L840.43 237.38 L841.42 236.87 L842.41 236.40 L843.39 235.96 L844.38 235.55 L845.37 235.19 L846.36 234.85 L847.35 234.55 L848.34 234.29 L849.33 234.05 L850.32 233.85 L851.31 233.68 L852.29 233.54 L853.28 233.44 L854.27 233.36 L855.26 233.32 L856.25 233.30" stroke-width="11.70"/>
<path d="M535.85 233.30 L536.84 233.32 L537.83 233.36 L538.82 233.44 L539.81 233.54 L540.79 233.68 L541.78 233.85 L542.77 234.05 L543.76 234.29 L544.75 234.55 L545.74 234.85 L546.73 235.19 L547.72 235.55 L548.71 235.96 L549.69 236.40 L550.68 236.87 L551.67 237.38 L552.66 237.93 L553.65 238.52 L554.64 239.14 L555.63 239.81 L556.62 240.50 L557.61 241.24 L558.59 242.01 L559.58 242.82 L560.57 243.67 L561.56 244.54 L562.55 245.46 L563.54 246.40 L564.53 247.37 L565.52 248.38 L566.51 249.41 L567.49 250.46 L568.48 251.54 L569.47 252.64 L570.46 253.76 L571.45 254.89 L572.44 256.03 L573.43 257.19 L574.42 258.35 L575.41 259.52 L576.39 260.68 L577.38 261.85 L578.37 263.01 L579.36 264.17 L580.35 265.31 L581.34 266.44 L582.33 267.56 L583.32 268.66 L584.31 269.74 L585.29 270.79 L586.28 271.82 L587.27 272.83 L588.26 273.80 L589.25 274.74 L590.24 275.66 L591.23 276.53 L592.22 277.38 L593.21 278.19 L594.19 278.96 L595.18 279.70 L596.17 280.39 L597.16 281.06 L598.15 281.68 L599.14 282.27 L600.13 282.82 L601.12 283.33 L602.11 283.80 L603.09 284.24 L604.08 284.65 L605.07 285.01 L606.06 285.35 L607.05 285.65 L608.04 285.91 L609.03 286.15 L610.02 286.35 L611.01 286.52 L611.99 286.66 L612.98 286.76 L613.97 286.84 L614.96 286.88 L615.95 286.90" stroke-width="11.70"/>
<path d="M615.95 233.30 L616.94 233.32 L617.93 233.36 L618.92 233.44 L619.91 233.54 L620.89 233.68 L621.88 233.85 L622.87 234.05 L623.86 234.29 L624.85 234.55 L625.84 234.85 L626.83 235.19 L627.82 235.55 L628.81 235.96 L629.79 236.40 L630.78 236.87 L631.77 237.38 L632.76 237.93 L633.75 238.52 L634.74 239.14 L635.73 239.81 L636.72 240.50 L637.71 241.24 L638.69 242.01 L639.68 242.82 L640.67 243.67 L641.66 244.54 L642.65 245.46 L643.64 246.40 L644.63 247.37 L645.62 248.38 L646.61 249.41 L647.59 250.46 L648.58 251.54 L649.57 252.64 L650.56 253.76 L651.55 254.89 L652.54 256.03 L653.53 257.19 L654.52 258.35 L655.51 259.52 L656.49 260.68 L657.48 261.85 L658.47 263.01 L659.46 264.17 L660.45 265.31 L661.44 266.44 L662.43 267.56 L663.42 268.66 L664.41 269.74 L665.39 270.79 L666.38 271.82 L667.37 272.83 L668.36 273.80 L669.35 274.74 L670.34 275.66 L671.33 276.53 L672.32 277.38 L673.31 278.19 L674.29 278.96 L675.28 279.70 L676.27 280.39 L677.26 281.06 L678.25 281.68 L679.24 282.27 L680.23 282.82 L681.22 283.33 L682.21 283.80 L683.19 284.24 L684.18 284.65 L685.17 285.01 L686.16 285.35 L687.15 285.65 L688.14 285.91 L689.13 286.15 L690.12 286.35 L691.11 286.52 L692.09 286.66 L693.08 286.76 L694.07 286.84 L695.06 286.88 L696.05 286.90" stroke-width="11.70"/>
<path d="M696.05 233.30 L697.04 233.32 L698.03 233.36 L699.02 233.44 L700.01 233.54 L700.99 233.68 L701.98 233.85 L702.97 234.05 L703.96 234.29 L704.95 234.55 L705.94 234.85 L706.93 235.19 L707.92 235.55 L708.91 235.96 L709.89 236.40 L710.88 236.87 L711.87 237.38 L712.86 237.93 L713.85 238.52 L714.84 239.14 L715.83 239.81 L716.82 240.50 L717.81 241.24 L718.79 242.01 L719.78 242.82 L720.77 243.67 L721.76 244.54 L722.75 245.46 L723.74 246.40 L724.73 247.37 L725.72 248.38 L726.71 249.41 L727.69 250.46 L728.68 251.54 L729.67 252.64 L730.66 253.76 L731.65 254.89 L732.64 256.03 L733.63 257.19 L734.62 258.35 L735.61 259.52 L736.59 260.68 L737.58 261.85 L738.57 263.01 L739.56 264.17 L740.55 265.31 L741.54 266.44 L742.53 267.56 L743.52 268.66 L744.51 269.74 L745.49 270.79 L746.48 271.82 L747.47 272.83 L748.46 273.80 L749.45 274.74 L750.44 275.66 L751.43 276.53 L752.42 277.38 L753.41 278.19 L754.39 278.96 L755.38 279.70 L756.37 280.39 L757.36 281.06 L758.35 281.68 L759.34 282.27 L760.33 282.82 L761.32 283.33 L762.31 283.80 L763.29 284.24 L764.28 284.65 L765.27 285.01 L766.26 285.35 L767.25 285.65 L768.24 285.91 L769.23 286.15 L770.22 286.35 L771.21 286.52 L772.19 286.66 L773.18 286.76 L774.17 286.84 L775.16 286.88 L776.15 286.90" stroke-width="11.70"/>
<path d="M776.15 233.30 L777.14 233.32 L778.13 233.36 L779.12 233.44 L780.11 233.54 L781.09 233.68 L782.08 233.85 L783.07 234.05 L784.06 234.29 L785.05 234.55 L786.04 234.85 L787.03 235.19 L788.02 235.55 L789.01 235.96 L789.99 236.40 L790.98 236.87 L791.97 237.38 L792.96 237.93 L793.95 238.52 L794.94 239.14 L795.93 239.81 L796.92 240.50 L797.91 241.24 L798.89 242.01 L799.88 242.82 L800.87 243.67 L801.86 244.54 L802.85 245.46 L803.84 246.40 L804.83 247.37 L805.82 248.38 L806.81 249.41 L807.79 250.46 L808.78 251.54 L809.77 252.64 L810.76 253.76 L811.75 254.89 L812.74 256.03 L813.73 257.19 L814.72 258.35 L815.71 259.52 L816.69 260.68 L817.68 261.85 L818.67 263.01 L819.66 264.17 L820.65 265.31 L821.64 266.44 L822.63 267.56 L823.62 268.66 L824.61 269.74 L825.59 270.79 L826.58 271.82 L827.57 272.83 L828.56 273.80 L829.55 274.74 L830.54 275.66 L831.53 276.53 L832.52 277.38 L833.51 278.19 L834.49 278.96 L835.48 279.70 L836.47 280.39 L837.46 281.06 L838.45 281.68 L839.44 282.27 L840.43 282.82 L841.42 283.33 L842.41 283.80 L843.39 284.24 L844.38 284.65 L845.37 285.01 L846.36 285.35 L847.35 285.65 L848.34 285.91 L849.33 286.15 L850.32 286.35 L851.31 286.52 L852.29 286.66 L853.28 286.76 L854.27 286.84 L855.26 286.88 L856.25 286.90" stroke-width="11.70"/>
<path d="M540.45 244.35 L540.45 277.05" stroke-width="5.95"/>
<path d="M549.65 247.95 L549.65 273.45" stroke-width="5.95"/>
<path d="M558.85 255.15 L558.85 266.25" stroke-width="5.95"/>
<path d="M611.35 244.35 L611.35 277.05" stroke-width="5.95"/>
<path d="M620.55 244.35 L620.55 277.05" stroke-width="5.95"/>
<path d="M602.15 247.95 L602.15 273.45" stroke-width="5.95"/>
<path d="M629.75 247.95 L629.75 273.45" stroke-width="5.95"/>
<path d="M592.95 255.15 L592.95 266.25" stroke-width="5.95"/>
<path d="M638.95 255.15 L638.95 266.25" stroke-width="5.95"/>
<path d="M691.45 244.35 L691.45 277.05" stroke-width="5.95"/>
<path d="M700.65 244.35 L700.65 277.05" stroke-width="5.95"/>
<path d="M682.25 247.95 L682.25 273.45" stroke-width="5.95"/>
<path d="M709.85 247.95 L709.85 273.45" stroke-width="5.95"/>
<path d="M673.05 255.15 L673.05 266.25" stroke-width="5.95"/>
<path d="M719.05 255.15 L719.05 266.25" stroke-width="5.95"/>
<path d="M771.55 244.35 L771.55 277.05" stroke-width="5.95"/>
<path d="M780.75 244.35 L780.75 277.05" stroke-width="5.95"/>
<path d="M762.35 247.95 L762.35 273.45" stroke-width="5.95"/>
<path d="M789.95 247.95 L789.95 273.45" stroke-width="5.95"/>
<path d="M753.15 255.15 L753.15 266.25" stroke-width="5.95"/>
<path d="M799.15 255.15 L799.15 266.25" stroke-width="5.95"/>
<path d="M851.65 244.35 L851.65 277.05" stroke-width="5.95"/>
<path d="M842.45 247.95 L842.45 273.45" stroke-width="5.95"/>
<path d="M833.25 255.15 L833.25 266.25" stroke-width="5.95"/>
</g>
<g fill="none" stroke-linecap="round">
<path d="M540.45 244.35 L540.45 277.05" stroke="#b02229" stroke-width="3.95"/>
<path d="M549.65 247.95 L549.65 273.45" stroke="#b02229" stroke-width="3.95"/>
<path d="M558.85 255.15 L558.85 266.25" stroke="#b02229" stroke-width="3.95"/>
<path d="M611.35 244.35 L611.35 277.05" stroke="#b02229" stroke-width="3.95"/>
<path d="M620.55 244.35 L620.55 277.05" stroke="#b02229" stroke-width="3.95"/>
<path d="M602.15 247.95 L602.15 273.45" stroke="#b02229" stroke-width="3.95"/>
<path d="M629.75 247.95 L629.75 273.45" stroke="#b02229" stroke-width="3.95"/>
<path d="M592.95 255.15 L592.95 266.25" stroke="#b02229" stroke-width="3.95"/>
<path d="M638.95 255.15 L638.95 266.25" stroke="#b02229" stroke-width="3.95"/>
<path d="M691.45 244.35 L691.45 277.05" stroke="#b02229" stroke-width="3.95"/>
<path d="M700.65 244.35 L700.65 277.05" stroke="#b02229" stroke-width="3.95"/>
<path d="M682.25 247.95 L682.25 273.45" stroke="#b02229" stroke-width="3.95"/>
<path d="M709.85 247.95 L709.85 273.45" stroke="#b02229" stroke-width="3.95"/>
<path d="M673.05 255.15 L673.05 266.25" stroke="#b02229" stroke-width="3.95"/>
<path d="M719.05 255.15 L719.05 266.25" stroke="#b02229" stroke-width="3.95"/>
<path d="M771.55 244.35 L771.55 277.05" stroke="#b02229" stroke-width="3.95"/>
<path d="M780.75 244.35 L780.75 277.05" stroke="#b02229" stroke-width="3.95"/>
<path d="M762.35 247.95 L762.35 273.45" stroke="#b02229" stroke-width="3.95"/>
<path d="M789.95 247.95 L789.95 273.45" stroke="#b02229" stroke-width="3.95"/>
<path d="M753.15 255.15 L753.15 266.25" stroke="#b02229" stroke-width="3.95"/>
<path d="M799.15 255.15 L799.15 266.25" stroke="#b02229" stroke-width="3.95"/>
<path d="M851.65 244.35 L851.65 277.05" stroke="#b02229" stroke-width="3.95"/>
<path d="M842.45 247.95 L842.45 273.45" stroke="#b02229" stroke-width="3.95"/>
<path d="M833.25 255.15 L833.25 266.25" stroke="#b02229" stroke-width="3.95"/>
<path d="M535.85 286.90 L536.84 286.88 L537.83 286.84 L538.82 286.76 L539.81 286.66 L540.79 286.52 L541.78 286.35 L542.77 286.15 L543.76 285.91 L544.75 285.65 L545.74 285.35 L546.73 285.01 L547.72 284.65 L548.71 284.24 L549.69 283.80 L550.68 283.33 L551.67 282.82 L552.66 282.27 L553.65 281.68 L554.64 281.06 L555.63 280.39 L556.62 279.70 L557.61 278.96 L558.59 278.19 L559.58 277.38 L560.57 276.53 L561.56 275.66 L562.55 274.74 L563.54 273.80 L564.53 272.83 L565.52 271.82 L566.51 270.79 L567.49 269.74 L568.48 268.66 L569.47 267.56 L570.46 266.44 L571.45 265.31 L572.44 264.17 L573.43 263.01 L574.42 261.85 L575.41 260.68 L576.39 259.52 L577.38 258.35 L578.37 257.19 L579.36 256.03 L580.35 254.89 L581.34 253.76 L582.33 252.64 L583.32 251.54 L584.31 250.46 L585.29 249.41 L586.28 248.38 L587.27 247.37 L588.26 246.40 L589.25 245.46 L590.24 244.54 L591.23 243.67 L592.22 242.82 L593.21 242.01 L594.19 241.24 L595.18 240.50 L596.17 239.81 L597.16 239.14 L598.15 238.52 L599.14 237.93 L600.13 237.38 L601.12 236.87 L602.11 236.40 L603.09 235.96 L604.08 235.55 L605.07 235.19 L606.06 234.85 L607.05 234.55 L608.04 234.29 L609.03 234.05 L610.02 233.85 L611.01 233.68 L611.99 233.54 L612.98 233.44 L613.97 233.36 L614.96 233.32 L615.95 233.30" stroke="#b02229" stroke-width="9.70"/>
<path d="M615.95 286.90 L616.94 286.88 L617.93 286.84 L618.92 286.76 L619.91 286.66 L620.89 286.52 L621.88 286.35 L622.87 286.15 L623.86 285.91 L624.85 285.65 L625.84 285.35 L626.83 285.01 L627.82 284.65 L628.81 284.24 L629.79 283.80 L630.78 283.33 L631.77 282.82 L632.76 282.27 L633.75 281.68 L634.74 281.06 L635.73 280.39 L636.72 279.70 L637.71 278.96 L638.69 278.19 L639.68 277.38 L640.67 276.53 L641.66 275.66 L642.65 274.74 L643.64 273.80 L644.63 272.83 L645.62 271.82 L646.61 270.79 L647.59 269.74 L648.58 268.66 L649.57 267.56 L650.56 266.44 L651.55 265.31 L652.54 264.17 L653.53 263.01 L654.52 261.85 L655.51 260.68 L656.49 259.52 L657.48 258.35 L658.47 257.19 L659.46 256.03 L660.45 254.89 L661.44 253.76 L662.43 252.64 L663.42 251.54 L664.41 250.46 L665.39 249.41 L666.38 248.38 L667.37 247.37 L668.36 246.40 L669.35 245.46 L670.34 244.54 L671.33 243.67 L672.32 242.82 L673.31 242.01 L674.29 241.24 L675.28 240.50 L676.27 239.81 L677.26 239.14 L678.25 238.52 L679.24 237.93 L680.23 237.38 L681.22 236.87 L682.21 236.40 L683.19 235.96 L684.18 235.55 L685.17 235.19 L686.16 234.85 L687.15 234.55 L688.14 234.29 L689.13 234.05 L690.12 233.85 L691.11 233.68 L692.09 233.54 L693.08 233.44 L694.07 233.36 L695.06 233.32 L696.05 233.30" stroke="#b02229" stroke-width="9.70"/>
<path d="M696.05 286.90 L697.04 286.88 L698.03 286.84 L699.02 286.76 L700.01 286.66 L700.99 286.52 L701.98 286.35 L702.97 286.15 L703.96 285.91 L704.95 285.65 L705.94 285.35 L706.93 285.01 L707.92 284.65 L708.91 284.24 L709.89 283.80 L710.88 283.33 L711.87 282.82 L712.86 282.27 L713.85 281.68 L714.84 281.06 L715.83 280.39 L716.82 279.70 L717.81 278.96 L718.79 278.19 L719.78 277.38 L720.77 276.53 L721.76 275.66 L722.75 274.74 L723.74 273.80 L724.73 272.83 L725.72 271.82 L726.71 270.79 L727.69 269.74 L728.68 268.66 L729.67 267.56 L730.66 266.44 L731.65 265.31 L732.64 264.17 L733.63 263.01 L734.62 261.85 L735.61 260.68 L736.59 259.52 L737.58 258.35 L738.57 257.19 L739.56 256.03 L740.55 254.89 L741.54 253.76 L742.53 252.64 L743.52 251.54 L744.51 250.46 L745.49 249.41 L746.48 248.38 L747.47 247.37 L748.46 246.40 L749.45 245.46 L750.44 244.54 L751.43 243.67 L752.42 242.82 L753.41 242.01 L754.39 241.24 L755.38 240.50 L756.37 239.81 L757.36 239.14 L758.35 238.52 L759.34 237.93 L760.33 237.38 L761.32 236.87 L762.31 236.40 L763.29 235.96 L764.28 235.55 L765.27 235.19 L766.26 234.85 L767.25 234.55 L768.24 234.29 L769.23 234.05 L770.22 233.85 L771.21 233.68 L772.19 233.54 L773.18 233.44 L774.17 233.36 L775.16 233.32 L776.15 233.30" stroke="#b02229" stroke-width="9.70"/>
<path d="M776.15 286.90 L777.14 286.88 L778.13 286.84 L779.12 286.76 L780.11 286.66 L781.09 286.52 L782.08 286.35 L783.07 286.15 L784.06 285.91 L785.05 285.65 L786.04 285.35 L787.03 285.01 L788.02 284.65 L789.01 284.24 L789.99 283.80 L790.98 283.33 L791.97 282.82 L792.96 282.27 L793.95 281.68 L794.94 281.06 L795.93 280.39 L796.92 279.70 L797.91 278.96 L798.89 278.19 L799.88 277.38 L800.87 276.53 L801.86 275.66 L802.85 274.74 L803.84 273.80 L804.83 272.83 L805.82 271.82 L806.81 270.79 L807.79 269.74 L808.78 268.66 L809.77 267.56 L810.76 266.44 L811.75 265.31 L812.74 264.17 L813.73 263.01 L814.72 261.85 L815.71 260.68 L816.69 259.52 L817.68 258.35 L818.67 257.19 L819.66 256.03 L820.65 254.89 L821.64 253.76 L822.63 252.64 L823.62 251.54 L824.61 250.46 L825.59 249.41 L826.58 248.38 L827.57 247.37 L828.56 246.40 L829.55 245.46 L830.54 244.54 L831.53 243.67 L832.52 242.82 L833.51 242.01 L834.49 241.24 L835.48 240.50 L836.47 239.81 L837.46 239.14 L838.45 238.52 L839.44 237.93 L840.43 237.38 L841.42 236.87 L842.41 236.40 L843.39 235.96 L844.38 235.55 L845.37 235.19 L846.36 234.85 L847.35 234.55 L848.34 234.29 L849.33 234.05 L850.32 233.85 L851.31 233.68 L852.29 233.54 L853.28 233.44 L854.27 233.36 L855.26 233.32 L856.25 233.30" stroke="#b02229" stroke-width="9.70"/>
<path d="M568.90 252.00 L569.38 252.54 L569.87 253.08 L570.35 253.63 L570.83 254.18 L571.31 254.73 L571.80 255.29 L572.28 255.85 L572.76 256.41 L573.24 256.97 L573.73 257.54 L574.21 258.11 L574.69 258.68 L575.18 259.24 L575.66 259.81 L576.14 260.39 L576.62 260.96 L577.11 261.52 L577.59 262.09 L578.07 262.66 L578.56 263.23 L579.04 263.79 L579.52 264.35 L580.00 264.91 L580.49 265.47 L580.97 266.02 L581.45 266.57 L581.93 267.12 L582.42 267.66 L582.90 268.20" stroke="#f4f2f1" stroke-linecap="butt" stroke-width="15.10"/>
<path d="M535.85 233.30 L536.84 233.32 L537.83 233.36 L538.82 233.44 L539.81 233.54 L540.79 233.68 L541.78 233.85 L542.77 234.05 L543.76 234.29 L544.75 234.55 L545.74 234.85 L546.73 235.19 L547.72 235.55 L548.71 235.96 L549.69 236.40 L550.68 236.87 L551.67 237.38 L552.66 237.93 L553.65 238.52 L554.64 239.14 L555.63 239.81 L556.62 240.50 L557.61 241.24 L558.59 242.01 L559.58 242.82 L560.57 243.67 L561.56 244.54 L562.55 245.46 L563.54 246.40 L564.53 247.37 L565.52 248.38 L566.51 249.41 L567.49 250.46 L568.48 251.54 L569.47 252.64 L570.46 253.76 L571.45 254.89 L572.44 256.03 L573.43 257.19 L574.42 258.35 L575.41 259.52 L576.39 260.68 L577.38 261.85 L578.37 263.01 L579.36 264.17 L580.35 265.31 L581.34 266.44 L582.33 267.56 L583.32 268.66 L584.31 269.74 L585.29 270.79 L586.28 271.82 L587.27 272.83 L588.26 273.80 L589.25 274.74 L590.24 275.66 L591.23 276.53 L592.22 277.38 L593.21 278.19 L594.19 278.96 L595.18 279.70 L596.17 280.39 L597.16 281.06 L598.15 281.68 L599.14 282.27 L600.13 282.82 L601.12 283.33 L602.11 283.80 L603.09 284.24 L604.08 284.65 L605.07 285.01 L606.06 285.35 L607.05 285.65 L608.04 285.91 L609.03 286.15 L610.02 286.35 L611.01 286.52 L611.99 286.66 L612.98 286.76 L613.97 286.84 L614.96 286.88 L615.95 286.90" stroke="#b02229" stroke-width="9.70"/>
<path d="M649.00 252.00 L649.48 252.54 L649.97 253.08 L650.45 253.63 L650.93 254.18 L651.41 254.73 L651.90 255.29 L652.38 255.85 L652.86 256.41 L653.34 256.97 L653.83 257.54 L654.31 258.11 L654.79 258.68 L655.28 259.24 L655.76 259.81 L656.24 260.39 L656.72 260.96 L657.21 261.52 L657.69 262.09 L658.17 262.66 L658.66 263.23 L659.14 263.79 L659.62 264.35 L660.10 264.91 L660.59 265.47 L661.07 266.02 L661.55 266.57 L662.03 267.12 L662.52 267.66 L663.00 268.20" stroke="#f4f2f1" stroke-linecap="butt" stroke-width="15.10"/>
<path d="M615.95 233.30 L616.94 233.32 L617.93 233.36 L618.92 233.44 L619.91 233.54 L620.89 233.68 L621.88 233.85 L622.87 234.05 L623.86 234.29 L624.85 234.55 L625.84 234.85 L626.83 235.19 L627.82 235.55 L628.81 235.96 L629.79 236.40 L630.78 236.87 L631.77 237.38 L632.76 237.93 L633.75 238.52 L634.74 239.14 L635.73 239.81 L636.72 240.50 L637.71 241.24 L638.69 242.01 L639.68 242.82 L640.67 243.67 L641.66 244.54 L642.65 245.46 L643.64 246.40 L644.63 247.37 L645.62 248.38 L646.61 249.41 L647.59 250.46 L648.58 251.54 L649.57 252.64 L650.56 253.76 L651.55 254.89 L652.54 256.03 L653.53 257.19 L654.52 258.35 L655.51 259.52 L656.49 260.68 L657.48 261.85 L658.47 263.01 L659.46 264.17 L660.45 265.31 L661.44 266.44 L662.43 267.56 L663.42 268.66 L664.41 269.74 L665.39 270.79 L666.38 271.82 L667.37 272.83 L668.36 273.80 L669.35 274.74 L670.34 275.66 L671.33 276.53 L672.32 277.38 L673.31 278.19 L674.29 278.96 L675.28 279.70 L676.27 280.39 L677.26 281.06 L678.25 281.68 L679.24 282.27 L680.23 282.82 L681.22 283.33 L682.21 283.80 L683.19 284.24 L684.18 284.65 L685.17 285.01 L686.16 285.35 L687.15 285.65 L688.14 285.91 L689.13 286.15 L690.12 286.35 L691.11 286.52 L692.09 286.66 L693.08 286.76 L694.07 286.84 L695.06 286.88 L696.05 286.90" stroke="#b02229" stroke-width="9.70"/>
<path d="M729.10 252.00 L729.58 252.54 L730.07 253.08 L730.55 253.63 L731.03 254.18 L731.51 254.73 L732.00 255.29 L732.48 255.85 L732.96 256.41 L733.44 256.97 L733.93 257.54 L734.41 258.11 L734.89 258.68 L735.38 259.24 L735.86 259.81 L736.34 260.39 L736.82 260.96 L737.31 261.52 L737.79 262.09 L738.27 262.66 L738.76 263.23 L739.24 263.79 L739.72 264.35 L740.20 264.91 L740.69 265.47 L741.17 266.02 L741.65 266.57 L742.13 267.12 L742.62 267.66 L743.10 268.20" stroke="#f4f2f1" stroke-linecap="butt" stroke-width="15.10"/>
<path d="M696.05 233.30 L697.04 233.32 L698.03 233.36 L699.02 233.44 L700.01 233.54 L700.99 233.68 L701.98 233.85 L702.97 234.05 L703.96 234.29 L704.95 234.55 L705.94 234.85 L706.93 235.19 L707.92 235.55 L708.91 235.96 L709.89 236.40 L710.88 236.87 L711.87 237.38 L712.86 237.93 L713.85 238.52 L714.84 239.14 L715.83 239.81 L716.82 240.50 L717.81 241.24 L718.79 242.01 L719.78 242.82 L720.77 243.67 L721.76 244.54 L722.75 245.46 L723.74 246.40 L724.73 247.37 L725.72 248.38 L726.71 249.41 L727.69 250.46 L728.68 251.54 L729.67 252.64 L730.66 253.76 L731.65 254.89 L732.64 256.03 L733.63 257.19 L734.62 258.35 L735.61 259.52 L736.59 260.68 L737.58 261.85 L738.57 263.01 L739.56 264.17 L740.55 265.31 L741.54 266.44 L742.53 267.56 L743.52 268.66 L744.51 269.74 L745.49 270.79 L746.48 271.82 L747.47 272.83 L748.46 273.80 L749.45 274.74 L750.44 275.66 L751.43 276.53 L752.42 277.38 L753.41 278.19 L754.39 278.96 L755.38 279.70 L756.37 280.39 L757.36 281.06 L758.35 281.68 L759.34 282.27 L760.33 282.82 L761.32 283.33 L762.31 283.80 L763.29 284.24 L764.28 284.65 L765.27 285.01 L766.26 285.35 L767.25 285.65 L768.24 285.91 L769.23 286.15 L770.22 286.35 L771.21 286.52 L772.19 286.66 L773.18 286.76 L774.17 286.84 L775.16 286.88 L776.15 286.90" stroke="#b02229" stroke-width="9.70"/>
<path d="M809.20 252.00 L809.68 252.54 L810.17 253.08 L810.65 253.63 L811.13 254.18 L811.61 254.73 L812.10 255.29 L812.58 255.85 L813.06 256.41 L813.54 256.97 L814.03 257.54 L814.51 258.11 L814.99 258.68 L815.48 259.24 L815.96 259.81 L816.44 260.39 L816.92 260.96 L817.41 261.52 L817.89 262.09 L818.37 262.66 L818.86 263.23 L819.34 263.79 L819.82 264.35 L820.30 264.91 L820.79 265.47 L821.27 266.02 L821.75 266.57 L822.23 267.12 L822.72 267.66 L823.20 268.20" stroke="#f4f2f1" stroke-linecap="butt" stroke-width="15.10"/>
<path d="M776.15 233.30 L777.14 233.32 L778.13 233.36 L779.12 233.44 L780.11 233.54 L781.09 233.68 L782.08 233.85 L783.07 234.05 L784.06 234.29 L785.05 234.55 L786.04 234.85 L787.03 235.19 L788.02 235.55 L789.01 235.96 L789.99 236.40 L790.98 236.87 L791.97 237.38 L792.96 237.93 L793.95 238.52 L794.94 239.14 L795.93 239.81 L796.92 240.50 L797.91 241.24 L798.89 242.01 L799.88 242.82 L800.87 243.67 L801.86 244.54 L802.85 245.46 L803.84 246.40 L804.83 247.37 L805.82 248.38 L806.81 249.41 L807.79 250.46 L808.78 251.54 L809.77 252.64 L810.76 253.76 L811.75 254.89 L812.74 256.03 L813.73 257.19 L814.72 258.35 L815.71 259.52 L816.69 260.68 L817.68 261.85 L818.67 263.01 L819.66 264.17 L820.65 265.31 L821.64 266.44 L822.63 267.56 L823.62 268.66 L824.61 269.74 L825.59 270.79 L826.58 271.82 L827.57 272.83 L828.56 273.80 L829.55 274.74 L830.54 275.66 L831.53 276.53 L832.52 277.38 L833.51 278.19 L834.49 278.96 L835.48 279.70 L836.47 280.39 L837.46 281.06 L838.45 281.68 L839.44 282.27 L840.43 282.82 L841.42 283.33 L842.41 283.80 L843.39 284.24 L844.38 284.65 L845.37 285.01 L846.36 285.35 L847.35 285.65 L848.34 285.91 L849.33 286.15 L850.32 286.35 L851.31 286.52 L852.29 286.66 L853.28 286.76 L854.27 286.84 L855.26 286.88 L856.25 286.90" stroke="#b02229" stroke-width="9.70"/>
</g><g fill="none" stroke="#0a0a0a" stroke-width="3.2"><ellipse cx="721.5" cy="203.6" rx="8.5" ry="6.7" transform="rotate(45 721.5 203.6)"/><ellipse cx="705.1" cy="222.0" rx="8.6" ry="6.6" transform="rotate(55 705.1 222.0)"/></g><path fill="#0a0a0a" d="M710.99 226.45 L721.32 228.81 L729.86 232.68 L739.06 235.30 L746.78 237.03 L752.89 238.35 L757.36 239.62 L761.10 240.66 L761.70 240.14 L760.64 235.58 L756.11 231.25 L749.22 228.17 L740.94 226.30 L731.74 225.32 L722.68 223.59 L712.01 221.55Z"/><path fill="#0a0a0a" d="M723.19 211.16 L725.59 220.71 L727.18 230.75 L729.28 238.57 L732.09 246.61 L735.42 253.06 L739.05 257.61 L742.55 260.21 L743.45 259.79 L743.75 255.39 L742.58 249.94 L740.71 243.39 L737.92 235.43 L734.42 228.45 L730.81 219.29 L728.01 209.84Z"/><circle cx="730.8" cy="229.6" r="1.5" fill="#eeeeee"/><g clip-path="url(#cl1)"><g fill="none" stroke="#fbfafa" stroke-linecap="round">
<path d="M331.70 507.30 L332.69 507.28 L333.69 507.24 L334.68 507.16 L335.68 507.06 L336.67 506.92 L337.66 506.75 L338.66 506.55 L339.65 506.31 L340.64 506.05 L341.64 505.75 L342.63 505.41 L343.63 505.05 L344.62 504.64 L345.61 504.20 L346.61 503.73 L347.60 503.22 L348.60 502.67 L349.59 502.08 L350.58 501.46 L351.58 500.79 L352.57 500.10 L353.56 499.36 L354.56 498.59 L355.55 497.78 L356.55 496.93 L357.54 496.06 L358.53 495.14 L359.53 494.20 L360.52 493.23 L361.51 492.22 L362.51 491.19 L363.50 490.14 L364.50 489.06 L365.49 487.96 L366.48 486.84 L367.48 485.71 L368.47 484.57 L369.47 483.41 L370.46 482.25 L371.45 481.08 L372.45 479.92 L373.44 478.75 L374.43 477.59 L375.43 476.43 L376.42 475.29 L377.42 474.16 L378.41 473.04 L379.40 471.94 L380.40 470.86 L381.39 469.81 L382.39 468.78 L383.38 467.77 L384.37 466.80 L385.37 465.86 L386.36 464.94 L387.35 464.07 L388.35 463.22 L389.34 462.41 L390.34 461.64 L391.33 460.90 L392.32 460.21 L393.32 459.54 L394.31 458.92 L395.30 458.33 L396.30 457.78 L397.29 457.27 L398.29 456.80 L399.28 456.36 L400.27 455.95 L401.27 455.59 L402.26 455.25 L403.26 454.95 L404.25 454.69 L405.24 454.45 L406.24 454.25 L407.23 454.08 L408.22 453.94 L409.22 453.84 L410.21 453.76 L411.21 453.72 L412.20 453.70" stroke-width="11.70"/>
<path d="M412.20 507.30 L413.19 507.28 L414.19 507.24 L415.18 507.16 L416.18 507.06 L417.17 506.92 L418.16 506.75 L419.16 506.55 L420.15 506.31 L421.14 506.05 L422.14 505.75 L423.13 505.41 L424.13 505.05 L425.12 504.64 L426.11 504.20 L427.11 503.73 L428.10 503.22 L429.10 502.67 L430.09 502.08 L431.08 501.46 L432.08 500.79 L433.07 500.10 L434.06 499.36 L435.06 498.59 L436.05 497.78 L437.05 496.93 L438.04 496.06 L439.03 495.14 L440.03 494.20 L441.02 493.23 L442.01 492.22 L443.01 491.19 L444.00 490.14 L445.00 489.06 L445.99 487.96 L446.98 486.84 L447.98 485.71 L448.97 484.57 L449.97 483.41 L450.96 482.25 L451.95 481.08 L452.95 479.92 L453.94 478.75 L454.93 477.59 L455.93 476.43 L456.92 475.29 L457.92 474.16 L458.91 473.04 L459.90 471.94 L460.90 470.86 L461.89 469.81 L462.89 468.78 L463.88 467.77 L464.87 466.80 L465.87 465.86 L466.86 464.94 L467.85 464.07 L468.85 463.22 L469.84 462.41 L470.84 461.64 L471.83 460.90 L472.82 460.21 L473.82 459.54 L474.81 458.92 L475.80 458.33 L476.80 457.78 L477.79 457.27 L478.79 456.80 L479.78 456.36 L480.77 455.95 L481.77 455.59 L482.76 455.25 L483.76 454.95 L484.75 454.69 L485.74 454.45 L486.74 454.25 L487.73 454.08 L488.72 453.94 L489.72 453.84 L490.71 453.76 L491.71 453.72 L492.70 453.70" stroke-width="11.70"/>
<path d="M492.70 507.30 L493.69 507.28 L494.69 507.24 L495.68 507.16 L496.68 507.06 L497.67 506.92 L498.66 506.75 L499.66 506.55 L500.65 506.31 L501.64 506.05 L502.64 505.75 L503.63 505.41 L504.63 505.05 L505.62 504.64 L506.61 504.20 L507.61 503.73 L508.60 503.22 L509.60 502.67 L510.59 502.08 L511.58 501.46 L512.58 500.79 L513.57 500.10 L514.56 499.36 L515.56 498.59 L516.55 497.78 L517.55 496.93 L518.54 496.06 L519.53 495.14 L520.53 494.20 L521.52 493.23 L522.51 492.22 L523.51 491.19 L524.50 490.14 L525.50 489.06 L526.49 487.96 L527.48 486.84 L528.48 485.71 L529.47 484.57 L530.47 483.41 L531.46 482.25 L532.45 481.08 L533.45 479.92 L534.44 478.75 L535.43 477.59 L536.43 476.43 L537.42 475.29 L538.42 474.16 L539.41 473.04 L540.40 471.94 L541.40 470.86 L542.39 469.81 L543.39 468.78 L544.38 467.77 L545.37 466.80 L546.37 465.86 L547.36 464.94 L548.35 464.07 L549.35 463.22 L550.34 462.41 L551.34 461.64 L552.33 460.90 L553.32 460.21 L554.32 459.54 L555.31 458.92 L556.30 458.33 L557.30 457.78 L558.29 457.27 L559.29 456.80 L560.28 456.36 L561.27 455.95 L562.27 455.59 L563.26 455.25 L564.26 454.95 L565.25 454.69 L566.24 454.45 L567.24 454.25 L568.23 454.08 L569.22 453.94 L570.22 453.84 L571.21 453.76 L572.21 453.72 L573.20 453.70" stroke-width="11.70"/>
<path d="M573.20 507.30 L574.19 507.28 L575.19 507.24 L576.18 507.16 L577.18 507.06 L578.17 506.92 L579.16 506.75 L580.16 506.55 L581.15 506.31 L582.14 506.05 L583.14 505.75 L584.13 505.41 L585.13 505.05 L586.12 504.64 L587.11 504.20 L588.11 503.73 L589.10 503.22 L590.10 502.67 L591.09 502.08 L592.08 501.46 L593.08 500.79 L594.07 500.10 L595.06 499.36 L596.06 498.59 L597.05 497.78 L598.05 496.93 L599.04 496.06 L600.03 495.14 L601.03 494.20 L602.02 493.23 L603.01 492.22 L604.01 491.19 L605.00 490.14 L606.00 489.06 L606.99 487.96 L607.98 486.84 L608.98 485.71 L609.97 484.57 L610.97 483.41 L611.96 482.25 L612.95 481.08 L613.95 479.92 L614.94 478.75 L615.93 477.59 L616.93 476.43 L617.92 475.29 L618.92 474.16 L619.91 473.04 L620.90 471.94 L621.90 470.86 L622.89 469.81 L623.89 468.78 L624.88 467.77 L625.87 466.80 L626.87 465.86 L627.86 464.94 L628.85 464.07 L629.85 463.22 L630.84 462.41 L631.84 461.64 L632.83 460.90 L633.82 460.21 L634.82 459.54 L635.81 458.92 L636.80 458.33 L637.80 457.78 L638.79 457.27 L639.79 456.80 L640.78 456.36 L641.77 455.95 L642.77 455.59 L643.76 455.25 L644.76 454.95 L645.75 454.69 L646.74 454.45 L647.74 454.25 L648.73 454.08 L649.72 453.94 L650.72 453.84 L651.71 453.76 L652.71 453.72 L653.70 453.70" stroke-width="11.70"/>
<path d="M331.70 453.70 L332.69 453.72 L333.69 453.76 L334.68 453.84 L335.68 453.94 L336.67 454.08 L337.66 454.25 L338.66 454.45 L339.65 454.69 L340.64 454.95 L341.64 455.25 L342.63 455.59 L343.63 455.95 L344.62 456.36 L345.61 456.80 L346.61 457.27 L347.60 457.78 L348.60 458.33 L349.59 458.92 L350.58 459.54 L351.58 460.21 L352.57 460.90 L353.56 461.64 L354.56 462.41 L355.55 463.22 L356.55 464.07 L357.54 464.94 L358.53 465.86 L359.53 466.80 L360.52 467.77 L361.51 468.78 L362.51 469.81 L363.50 470.86 L364.50 471.94 L365.49 473.04 L366.48 474.16 L367.48 475.29 L368.47 476.43 L369.47 477.59 L370.46 478.75 L371.45 479.92 L372.45 481.08 L373.44 482.25 L374.43 483.41 L375.43 484.57 L376.42 485.71 L377.42 486.84 L378.41 487.96 L379.40 489.06 L380.40 490.14 L381.39 491.19 L382.39 492.22 L383.38 493.23 L384.37 494.20 L385.37 495.14 L386.36 496.06 L387.35 496.93 L388.35 497.78 L389.34 498.59 L390.34 499.36 L391.33 500.10 L392.32 500.79 L393.32 501.46 L394.31 502.08 L395.30 502.67 L396.30 503.22 L397.29 503.73 L398.29 504.20 L399.28 504.64 L400.27 505.05 L401.27 505.41 L402.26 505.75 L403.26 506.05 L404.25 506.31 L405.24 506.55 L406.24 506.75 L407.23 506.92 L408.22 507.06 L409.22 507.16 L410.21 507.24 L411.21 507.28 L412.20 507.30" stroke-width="11.70"/>
<path d="M412.20 453.70 L413.19 453.72 L414.19 453.76 L415.18 453.84 L416.18 453.94 L417.17 454.08 L418.16 454.25 L419.16 454.45 L420.15 454.69 L421.14 454.95 L422.14 455.25 L423.13 455.59 L424.13 455.95 L425.12 456.36 L426.11 456.80 L427.11 457.27 L428.10 457.78 L429.10 458.33 L430.09 458.92 L431.08 459.54 L432.08 460.21 L433.07 460.90 L434.06 461.64 L435.06 462.41 L436.05 463.22 L437.05 464.07 L438.04 464.94 L439.03 465.86 L440.03 466.80 L441.02 467.77 L442.01 468.78 L443.01 469.81 L444.00 470.86 L445.00 471.94 L445.99 473.04 L446.98 474.16 L447.98 475.29 L448.97 476.43 L449.97 477.59 L450.96 478.75 L451.95 479.92 L452.95 481.08 L453.94 482.25 L454.93 483.41 L455.93 484.57 L456.92 485.71 L457.92 486.84 L458.91 487.96 L459.90 489.06 L460.90 490.14 L461.89 491.19 L462.89 492.22 L463.88 493.23 L464.87 494.20 L465.87 495.14 L466.86 496.06 L467.85 496.93 L468.85 497.78 L469.84 498.59 L470.84 499.36 L471.83 500.10 L472.82 500.79 L473.82 501.46 L474.81 502.08 L475.80 502.67 L476.80 503.22 L477.79 503.73 L478.79 504.20 L479.78 504.64 L480.77 505.05 L481.77 505.41 L482.76 505.75 L483.76 506.05 L484.75 506.31 L485.74 506.55 L486.74 506.75 L487.73 506.92 L488.72 507.06 L489.72 507.16 L490.71 507.24 L491.71 507.28 L492.70 507.30" stroke-width="11.70"/>
<path d="M492.70 453.70 L493.69 453.72 L494.69 453.76 L495.68 453.84 L496.68 453.94 L497.67 454.08 L498.66 454.25 L499.66 454.45 L500.65 454.69 L501.64 454.95 L502.64 455.25 L503.63 455.59 L504.63 455.95 L505.62 456.36 L506.61 456.80 L507.61 457.27 L508.60 457.78 L509.60 458.33 L510.59 458.92 L511.58 459.54 L512.58 460.21 L513.57 460.90 L514.56 461.64 L515.56 462.41 L516.55 463.22 L517.55 464.07 L518.54 464.94 L519.53 465.86 L520.53 466.80 L521.52 467.77 L522.51 468.78 L523.51 469.81 L524.50 470.86 L525.50 471.94 L526.49 473.04 L527.48 474.16 L528.48 475.29 L529.47 476.43 L530.47 477.59 L531.46 478.75 L532.45 479.92 L533.45 481.08 L534.44 482.25 L535.43 483.41 L536.43 484.57 L537.42 485.71 L538.42 486.84 L539.41 487.96 L540.40 489.06 L541.40 490.14 L542.39 491.19 L543.39 492.22 L544.38 493.23 L545.37 494.20 L546.37 495.14 L547.36 496.06 L548.35 496.93 L549.35 497.78 L550.34 498.59 L551.34 499.36 L552.33 500.10 L553.32 500.79 L554.32 501.46 L555.31 502.08 L556.30 502.67 L557.30 503.22 L558.29 503.73 L559.29 504.20 L560.28 504.64 L561.27 505.05 L562.27 505.41 L563.26 505.75 L564.26 506.05 L565.25 506.31 L566.24 506.55 L567.24 506.75 L568.23 506.92 L569.22 507.06 L570.22 507.16 L571.21 507.24 L572.21 507.28 L573.20 507.30" stroke-width="11.70"/>
<path d="M573.20 453.70 L574.19 453.72 L575.19 453.76 L576.18 453.84 L577.18 453.94 L578.17 454.08 L579.16 454.25 L580.16 454.45 L581.15 454.69 L582.14 454.95 L583.14 455.25 L584.13 455.59 L585.13 455.95 L586.12 456.36 L587.11 456.80 L588.11 457.27 L589.10 457.78 L590.10 458.33 L591.09 458.92 L592.08 459.54 L593.08 460.21 L594.07 460.90 L595.06 461.64 L596.06 462.41 L597.05 463.22 L598.05 464.07 L599.04 464.94 L600.03 465.86 L601.03 466.80 L602.02 467.77 L603.01 468.78 L604.01 469.81 L605.00 470.86 L606.00 471.94 L606.99 473.04 L607.98 474.16 L608.98 475.29 L609.97 476.43 L610.97 477.59 L611.96 478.75 L612.95 479.92 L613.95 481.08 L614.94 482.25 L615.93 483.41 L616.93 484.57 L617.92 485.71 L618.92 486.84 L619.91 487.96 L620.90 489.06 L621.90 490.14 L622.89 491.19 L623.89 492.22 L624.88 493.23 L625.87 494.20 L626.87 495.14 L627.86 496.06 L628.85 496.93 L629.85 497.78 L630.84 498.59 L631.84 499.36 L632.83 500.10 L633.82 500.79 L634.82 501.46 L635.81 502.08 L636.80 502.67 L637.80 503.22 L638.79 503.73 L639.79 504.20 L640.78 504.64 L641.77 505.05 L642.77 505.41 L643.76 505.75 L644.76 506.05 L645.75 506.31 L646.74 506.55 L647.74 506.75 L648.73 506.92 L649.72 507.06 L650.72 507.16 L651.71 507.24 L652.71 507.28 L653.70 507.30" stroke-width="11.70"/>
<path d="M336.30 464.75 L336.30 497.45" stroke-width="5.95"/>
<path d="M345.50 468.35 L345.50 493.85" stroke-width="5.95"/>
<path d="M354.70 475.55 L354.70 486.65" stroke-width="5.95"/>
<path d="M407.60 464.75 L407.60 497.45" stroke-width="5.95"/>
<path d="M416.80 464.75 L416.80 497.45" stroke-width="5.95"/>
<path d="M398.40 468.35 L398.40 493.85" stroke-width="5.95"/>
<path d="M426.00 468.35 L426.00 493.85" stroke-width="5.95"/>
<path d="M389.20 475.55 L389.20 486.65" stroke-width="5.95"/>
<path d="M435.20 475.55 L435.20 486.65" stroke-width="5.95"/>
<path d="M488.10 464.75 L488.10 497.45" stroke-width="5.95"/>
<path d="M497.30 464.75 L497.30 497.45" stroke-width="5.95"/>
<path d="M478.90 468.35 L478.90 493.85" stroke-width="5.95"/>
<path d="M506.50 468.35 L506.50 493.85" stroke-width="5.95"/>
<path d="M469.70 475.55 L469.70 486.65" stroke-width="5.95"/>
<path d="M515.70 475.55 L515.70 486.65" stroke-width="5.95"/>
<path d="M568.60 464.75 L568.60 497.45" stroke-width="5.95"/>
<path d="M577.80 464.75 L577.80 497.45" stroke-width="5.95"/>
<path d="M559.40 468.35 L559.40 493.85" stroke-width="5.95"/>
<path d="M587.00 468.35 L587.00 493.85" stroke-width="5.95"/>
<path d="M550.20 475.55 L550.20 486.65" stroke-width="5.95"/>
<path d="M596.20 475.55 L596.20 486.65" stroke-width="5.95"/>
<path d="M649.10 464.75 L649.10 497.45" stroke-width="5.95"/>
<path d="M639.90 468.35 L639.90 493.85" stroke-width="5.95"/>
<path d="M630.70 475.55 L630.70 486.65" stroke-width="5.95"/>
</g>
<g fill="none" stroke-linecap="round">
<path d="M336.30 464.75 L336.30 497.45" stroke="#b02229" stroke-width="3.95"/>
<path d="M345.50 468.35 L345.50 493.85" stroke="#b02229" stroke-width="3.95"/>
<path d="M354.70 475.55 L354.70 486.65" stroke="#b02229" stroke-width="3.95"/>
<path d="M407.60 464.75 L407.60 497.45" stroke="#b02229" stroke-width="3.95"/>
<path d="M416.80 464.75 L416.80 497.45" stroke="#b02229" stroke-width="3.95"/>
<path d="M398.40 468.35 L398.40 493.85" stroke="#b02229" stroke-width="3.95"/>
<path d="M426.00 468.35 L426.00 493.85" stroke="#b02229" stroke-width="3.95"/>
<path d="M389.20 475.55 L389.20 486.65" stroke="#b02229" stroke-width="3.95"/>
<path d="M435.20 475.55 L435.20 486.65" stroke="#b02229" stroke-width="3.95"/>
<path d="M488.10 464.75 L488.10 497.45" stroke="#b02229" stroke-width="3.95"/>
<path d="M497.30 464.75 L497.30 497.45" stroke="#b02229" stroke-width="3.95"/>
<path d="M478.90 468.35 L478.90 493.85" stroke="#b02229" stroke-width="3.95"/>
<path d="M506.50 468.35 L506.50 493.85" stroke="#b02229" stroke-width="3.95"/>
<path d="M469.70 475.55 L469.70 486.65" stroke="#b02229" stroke-width="3.95"/>
<path d="M515.70 475.55 L515.70 486.65" stroke="#b02229" stroke-width="3.95"/>
<path d="M568.60 464.75 L568.60 497.45" stroke="#b02229" stroke-width="3.95"/>
<path d="M577.80 464.75 L577.80 497.45" stroke="#b02229" stroke-width="3.95"/>
<path d="M559.40 468.35 L559.40 493.85" stroke="#b02229" stroke-width="3.95"/>
<path d="M587.00 468.35 L587.00 493.85" stroke="#b02229" stroke-width="3.95"/>
<path d="M550.20 475.55 L550.20 486.65" stroke="#b02229" stroke-width="3.95"/>
<path d="M596.20 475.55 L596.20 486.65" stroke="#b02229" stroke-width="3.95"/>
<path d="M649.10 464.75 L649.10 497.45" stroke="#b02229" stroke-width="3.95"/>
<path d="M639.90 468.35 L639.90 493.85" stroke="#b02229" stroke-width="3.95"/>
<path d="M630.70 475.55 L630.70 486.65" stroke="#b02229" stroke-width="3.95"/>
<path d="M331.70 507.30 L332.69 507.28 L333.69 507.24 L334.68 507.16 L335.68 507.06 L336.67 506.92 L337.66 506.75 L338.66 506.55 L339.65 506.31 L340.64 506.05 L341.64 505.75 L342.63 505.41 L343.63 505.05 L344.62 504.64 L345.61 504.20 L346.61 503.73 L347.60 503.22 L348.60 502.67 L349.59 502.08 L350.58 501.46 L351.58 500.79 L352.57 500.10 L353.56 499.36 L354.56 498.59 L355.55 497.78 L356.55 496.93 L357.54 496.06 L358.53 495.14 L359.53 494.20 L360.52 493.23 L361.51 492.22 L362.51 491.19 L363.50 490.14 L364.50 489.06 L365.49 487.96 L366.48 486.84 L367.48 485.71 L368.47 484.57 L369.47 483.41 L370.46 482.25 L371.45 481.08 L372.45 479.92 L373.44 478.75 L374.43 477.59 L375.43 476.43 L376.42 475.29 L377.42 474.16 L378.41 473.04 L379.40 471.94 L380.40 470.86 L381.39 469.81 L382.39 468.78 L383.38 467.77 L384.37 466.80 L385.37 465.86 L386.36 464.94 L387.35 464.07 L388.35 463.22 L389.34 462.41 L390.34 461.64 L391.33 460.90 L392.32 460.21 L393.32 459.54 L394.31 458.92 L395.30 458.33 L396.30 457.78 L397.29 457.27 L398.29 456.80 L399.28 456.36 L400.27 455.95 L401.27 455.59 L402.26 455.25 L403.26 454.95 L404.25 454.69 L405.24 454.45 L406.24 454.25 L407.23 454.08 L408.22 453.94 L409.22 453.84 L410.21 453.76 L411.21 453.72 L412.20 453.70" stroke="#b02229" stroke-width="9.70"/>
<path d="M412.20 507.30 L413.19 507.28 L414.19 507.24 L415.18 507.16 L416.18 507.06 L417.17 506.92 L418.16 506.75 L419.16 506.55 L420.15 506.31 L421.14 506.05 L422.14 505.75 L423.13 505.41 L424.13 505.05 L425.12 504.64 L426.11 504.20 L427.11 503.73 L428.10 503.22 L429.10 502.67 L430.09 502.08 L431.08 501.46 L432.08 500.79 L433.07 500.10 L434.06 499.36 L435.06 498.59 L436.05 497.78 L437.05 496.93 L438.04 496.06 L439.03 495.14 L440.03 494.20 L441.02 493.23 L442.01 492.22 L443.01 491.19 L444.00 490.14 L445.00 489.06 L445.99 487.96 L446.98 486.84 L447.98 485.71 L448.97 484.57 L449.97 483.41 L450.96 482.25 L451.95 481.08 L452.95 479.92 L453.94 478.75 L454.93 477.59 L455.93 476.43 L456.92 475.29 L457.92 474.16 L458.91 473.04 L459.90 471.94 L460.90 470.86 L461.89 469.81 L462.89 468.78 L463.88 467.77 L464.87 466.80 L465.87 465.86 L466.86 464.94 L467.85 464.07 L468.85 463.22 L469.84 462.41 L470.84 461.64 L471.83 460.90 L472.82 460.21 L473.82 459.54 L474.81 458.92 L475.80 458.33 L476.80 457.78 L477.79 457.27 L478.79 456.80 L479.78 456.36 L480.77 455.95 L481.77 455.59 L482.76 455.25 L483.76 454.95 L484.75 454.69 L485.74 454.45 L486.74 454.25 L487.73 454.08 L488.72 453.94 L489.72 453.84 L490.71 453.76 L491.71 453.72 L492.70 453.70" stroke="#b02229" stroke-width="9.70"/>
<path d="M492.70 507.30 L493.69 507.28 L494.69 507.24 L495.68 507.16 L496.68 507.06 L497.67 506.92 L498.66 506.75 L499.66 506.55 L500.65 506.31 L501.64 506.05 L502.64 505.75 L503.63 505.41 L504.63 505.05 L505.62 504.64 L506.61 504.20 L507.61 503.73 L508.60 503.22 L509.60 502.67 L510.59 502.08 L511.58 501.46 L512.58 500.79 L513.57 500.10 L514.56 499.36 L515.56 498.59 L516.55 497.78 L517.55 496.93 L518.54 496.06 L519.53 495.14 L520.53 494.20 L521.52 493.23 L522.51 492.22 L523.51 491.19 L524.50 490.14 L525.50 489.06 L526.49 487.96 L527.48 486.84 L528.48 485.71 L529.47 484.57 L530.47 483.41 L531.46 482.25 L532.45 481.08 L533.45 479.92 L534.44 478.75 L535.43 477.59 L536.43 476.43 L537.42 475.29 L538.42 474.16 L539.41 473.04 L540.40 471.94 L541.40 470.86 L542.39 469.81 L543.39 468.78 L544.38 467.77 L545.37 466.80 L546.37 465.86 L547.36 464.94 L548.35 464.07 L549.35 463.22 L550.34 462.41 L551.34 461.64 L552.33 460.90 L553.32 460.21 L554.32 459.54 L555.31 458.92 L556.30 458.33 L557.30 457.78 L558.29 457.27 L559.29 456.80 L560.28 456.36 L561.27 455.95 L562.27 455.59 L563.26 455.25 L564.26 454.95 L565.25 454.69 L566.24 454.45 L567.24 454.25 L568.23 454.08 L569.22 453.94 L570.22 453.84 L571.21 453.76 L572.21 453.72 L573.20 453.70" stroke="#b02229" stroke-width="9.70"/>
<path d="M573.20 507.30 L574.19 507.28 L575.19 507.24 L576.18 507.16 L577.18 507.06 L578.17 506.92 L579.16 506.75 L580.16 506.55 L581.15 506.31 L582.14 506.05 L583.14 505.75 L584.13 505.41 L585.13 505.05 L586.12 504.64 L587.11 504.20 L588.11 503.73 L589.10 503.22 L590.10 502.67 L591.09 502.08 L592.08 501.46 L593.08 500.79 L594.07 500.10 L595.06 499.36 L596.06 498.59 L597.05 497.78 L598.05 496.93 L599.04 496.06 L600.03 495.14 L601.03 494.20 L602.02 493.23 L603.01 492.22 L604.01 491.19 L605.00 490.14 L606.00 489.06 L606.99 487.96 L607.98 486.84 L608.98 485.71 L609.97 484.57 L610.97 483.41 L611.96 482.25 L612.95 481.08 L613.95 479.92 L614.94 478.75 L615.93 477.59 L616.93 476.43 L617.92 475.29 L618.92 474.16 L619.91 473.04 L620.90 471.94 L621.90 470.86 L622.89 469.81 L623.89 468.78 L624.88 467.77 L625.87 466.80 L626.87 465.86 L627.86 464.94 L628.85 464.07 L629.85 463.22 L630.84 462.41 L631.84 461.64 L632.83 460.90 L633.82 460.21 L634.82 459.54 L635.81 458.92 L636.80 458.33 L637.80 457.78 L638.79 457.27 L639.79 456.80 L640.78 456.36 L641.77 455.95 L642.77 455.59 L643.76 455.25 L644.76 454.95 L645.75 454.69 L646.74 454.45 L647.74 454.25 L648.73 454.08 L649.72 453.94 L650.72 453.84 L651.71 453.76 L652.71 453.72 L653.70 453.70" stroke="#b02229" stroke-width="9.70"/>
<path d="M364.95 472.44 L365.43 472.98 L365.92 473.52 L366.40 474.06 L366.88 474.61 L367.36 475.16 L367.85 475.71 L368.33 476.27 L368.81 476.83 L369.29 477.39 L369.78 477.95 L370.26 478.52 L370.74 479.08 L371.23 479.65 L371.71 480.22 L372.19 480.78 L372.67 481.35 L373.16 481.92 L373.64 482.48 L374.12 483.05 L374.61 483.61 L375.09 484.17 L375.57 484.73 L376.05 485.29 L376.54 485.84 L377.02 486.39 L377.50 486.94 L377.98 487.48 L378.47 488.02 L378.95 488.56" stroke="#f4f2f1" stroke-linecap="butt" stroke-width="15.10"/>
<path d="M331.70 453.70 L332.69 453.72 L333.69 453.76 L334.68 453.84 L335.68 453.94 L336.67 454.08 L337.66 454.25 L338.66 454.45 L339.65 454.69 L340.64 454.95 L341.64 455.25 L342.63 455.59 L343.63 455.95 L344.62 456.36 L345.61 456.80 L346.61 457.27 L347.60 457.78 L348.60 458.33 L349.59 458.92 L350.58 459.54 L351.58 460.21 L352.57 460.90 L353.56 461.64 L354.56 462.41 L355.55 463.22 L356.55 464.07 L357.54 464.94 L358.53 465.86 L359.53 466.80 L360.52 467.77 L361.51 468.78 L362.51 469.81 L363.50 470.86 L364.50 471.94 L365.49 473.04 L366.48 474.16 L367.48 475.29 L368.47 476.43 L369.47 477.59 L370.46 478.75 L371.45 479.92 L372.45 481.08 L373.44 482.25 L374.43 483.41 L375.43 484.57 L376.42 485.71 L377.42 486.84 L378.41 487.96 L379.40 489.06 L380.40 490.14 L381.39 491.19 L382.39 492.22 L383.38 493.23 L384.37 494.20 L385.37 495.14 L386.36 496.06 L387.35 496.93 L388.35 497.78 L389.34 498.59 L390.34 499.36 L391.33 500.10 L392.32 500.79 L393.32 501.46 L394.31 502.08 L395.30 502.67 L396.30 503.22 L397.29 503.73 L398.29 504.20 L399.28 504.64 L400.27 505.05 L401.27 505.41 L402.26 505.75 L403.26 506.05 L404.25 506.31 L405.24 506.55 L406.24 506.75 L407.23 506.92 L408.22 507.06 L409.22 507.16 L410.21 507.24 L411.21 507.28 L412.20 507.30" stroke="#b02229" stroke-width="9.70"/>
<path d="M445.45 472.44 L445.93 472.98 L446.42 473.52 L446.90 474.06 L447.38 474.61 L447.86 475.16 L448.35 475.71 L448.83 476.27 L449.31 476.83 L449.79 477.39 L450.28 477.95 L450.76 478.52 L451.24 479.08 L451.73 479.65 L452.21 480.22 L452.69 480.78 L453.17 481.35 L453.66 481.92 L454.14 482.48 L454.62 483.05 L455.11 483.61 L455.59 484.17 L456.07 484.73 L456.55 485.29 L457.04 485.84 L457.52 486.39 L458.00 486.94 L458.48 487.48 L458.97 488.02 L459.45 488.56" stroke="#f4f2f1" stroke-linecap="butt" stroke-width="15.10"/>
<path d="M412.20 453.70 L413.19 453.72 L414.19 453.76 L415.18 453.84 L416.18 453.94 L417.17 454.08 L418.16 454.25 L419.16 454.45 L420.15 454.69 L421.14 454.95 L422.14 455.25 L423.13 455.59 L424.13 455.95 L425.12 456.36 L426.11 456.80 L427.11 457.27 L428.10 457.78 L429.10 458.33 L430.09 458.92 L431.08 459.54 L432.08 460.21 L433.07 460.90 L434.06 461.64 L435.06 462.41 L436.05 463.22 L437.05 464.07 L438.04 464.94 L439.03 465.86 L440.03 466.80 L441.02 467.77 L442.01 468.78 L443.01 469.81 L444.00 470.86 L445.00 471.94 L445.99 473.04 L446.98 474.16 L447.98 475.29 L448.97 476.43 L449.97 477.59 L450.96 478.75 L451.95 479.92 L452.95 481.08 L453.94 482.25 L454.93 483.41 L455.93 484.57 L456.92 485.71 L457.92 486.84 L458.91 487.96 L459.90 489.06 L460.90 490.14 L461.89 491.19 L462.89 492.22 L463.88 493.23 L464.87 494.20 L465.87 495.14 L466.86 496.06 L467.85 496.93 L468.85 497.78 L469.84 498.59 L470.84 499.36 L471.83 500.10 L472.82 500.79 L473.82 501.46 L474.81 502.08 L475.80 502.67 L476.80 503.22 L477.79 503.73 L478.79 504.20 L479.78 504.64 L480.77 505.05 L481.77 505.41 L482.76 505.75 L483.76 506.05 L484.75 506.31 L485.74 506.55 L486.74 506.75 L487.73 506.92 L488.72 507.06 L489.72 507.16 L490.71 507.24 L491.71 507.28 L492.70 507.30" stroke="#b02229" stroke-width="9.70"/>
<path d="M525.95 472.44 L526.43 472.98 L526.92 473.52 L527.40 474.06 L527.88 474.61 L528.36 475.16 L528.85 475.71 L529.33 476.27 L529.81 476.83 L530.29 477.39 L530.78 477.95 L531.26 478.52 L531.74 479.08 L532.23 479.65 L532.71 480.22 L533.19 480.78 L533.67 481.35 L534.16 481.92 L534.64 482.48 L535.12 483.05 L535.61 483.61 L536.09 484.17 L536.57 484.73 L537.05 485.29 L537.54 485.84 L538.02 486.39 L538.50 486.94 L538.98 487.48 L539.47 488.02 L539.95 488.56" stroke="#f4f2f1" stroke-linecap="butt" stroke-width="15.10"/>
<path d="M492.70 453.70 L493.69 453.72 L494.69 453.76 L495.68 453.84 L496.68 453.94 L497.67 454.08 L498.66 454.25 L499.66 454.45 L500.65 454.69 L501.64 454.95 L502.64 455.25 L503.63 455.59 L504.63 455.95 L505.62 456.36 L506.61 456.80 L507.61 457.27 L508.60 457.78 L509.60 458.33 L510.59 458.92 L511.58 459.54 L512.58 460.21 L513.57 460.90 L514.56 461.64 L515.56 462.41 L516.55 463.22 L517.55 464.07 L518.54 464.94 L519.53 465.86 L520.53 466.80 L521.52 467.77 L522.51 468.78 L523.51 469.81 L524.50 470.86 L525.50 471.94 L526.49 473.04 L527.48 474.16 L528.48 475.29 L529.47 476.43 L530.47 477.59 L531.46 478.75 L532.45 479.92 L533.45 481.08 L534.44 482.25 L535.43 483.41 L536.43 484.57 L537.42 485.71 L538.42 486.84 L539.41 487.96 L540.40 489.06 L541.40 490.14 L542.39 491.19 L543.39 492.22 L544.38 493.23 L545.37 494.20 L546.37 495.14 L547.36 496.06 L548.35 496.93 L549.35 497.78 L550.34 498.59 L551.34 499.36 L552.33 500.10 L553.32 500.79 L554.32 501.46 L555.31 502.08 L556.30 502.67 L557.30 503.22 L558.29 503.73 L559.29 504.20 L560.28 504.64 L561.27 505.05 L562.27 505.41 L563.26 505.75 L564.26 506.05 L565.25 506.31 L566.24 506.55 L567.24 506.75 L568.23 506.92 L569.22 507.06 L570.22 507.16 L571.21 507.24 L572.21 507.28 L573.20 507.30" stroke="#b02229" stroke-width="9.70"/>
<path d="M606.45 472.44 L606.93 472.98 L607.42 473.52 L607.90 474.06 L608.38 474.61 L608.86 475.16 L609.35 475.71 L609.83 476.27 L610.31 476.83 L610.79 477.39 L611.28 477.95 L611.76 478.52 L612.24 479.08 L612.73 479.65 L613.21 480.22 L613.69 480.78 L614.17 481.35 L614.66 481.92 L615.14 482.48 L615.62 483.05 L616.11 483.61 L616.59 484.17 L617.07 484.73 L617.55 485.29 L618.04 485.84 L618.52 486.39 L619.00 486.94 L619.48 487.48 L619.97 488.02 L620.45 488.56" stroke="#f4f2f1" stroke-linecap="butt" stroke-width="15.10"/>
<path d="M573.20 453.70 L574.19 453.72 L575.19 453.76 L576.18 453.84 L577.18 453.94 L578.17 454.08 L579.16 454.25 L580.16 454.45 L581.15 454.69 L582.14 454.95 L583.14 455.25 L584.13 455.59 L585.13 455.95 L586.12 456.36 L587.11 456.80 L588.11 457.27 L589.10 457.78 L590.10 458.33 L591.09 458.92 L592.08 459.54 L593.08 460.21 L594.07 460.90 L595.06 461.64 L596.06 462.41 L597.05 463.22 L598.05 464.07 L599.04 464.94 L600.03 465.86 L601.03 466.80 L602.02 467.77 L603.01 468.78 L604.01 469.81 L605.00 470.86 L606.00 471.94 L606.99 473.04 L607.98 474.16 L608.98 475.29 L609.97 476.43 L610.97 477.59 L611.96 478.75 L612.95 479.92 L613.95 481.08 L614.94 482.25 L615.93 483.41 L616.93 484.57 L617.92 485.71 L618.92 486.84 L619.91 487.96 L620.90 489.06 L621.90 490.14 L622.89 491.19 L623.89 492.22 L624.88 493.23 L625.87 494.20 L626.87 495.14 L627.86 496.06 L628.85 496.93 L629.85 497.78 L630.84 498.59 L631.84 499.36 L632.83 500.10 L633.82 500.79 L634.82 501.46 L635.81 502.08 L636.80 502.67 L637.80 503.22 L638.79 503.73 L639.79 504.20 L640.78 504.64 L641.77 505.05 L642.77 505.41 L643.76 505.75 L644.76 506.05 L645.75 506.31 L646.74 506.55 L647.74 506.75 L648.73 506.92 L649.72 507.06 L650.72 507.16 L651.71 507.24 L652.71 507.28 L653.70 507.30" stroke="#b02229" stroke-width="9.70"/>
</g></g><g clip-path="url(#cl3)"><g fill="none" stroke="#fbfafa" stroke-linecap="round">
<path d="M333.60 458.33 L334.59 458.32 L335.58 458.27 L336.56 458.20 L337.55 458.09 L338.54 457.96 L339.53 457.79 L340.51 457.60 L341.50 457.37 L342.49 457.11 L343.48 456.82 L344.46 456.49 L345.45 456.13 L346.44 455.74 L347.43 455.31 L348.41 454.85 L349.40 454.35 L350.39 453.81 L351.38 453.24 L352.37 452.63 L353.35 451.99 L354.34 451.31 L355.33 450.59 L356.32 449.83 L357.30 449.05 L358.29 448.22 L359.28 447.37 L360.27 446.48 L361.25 445.56 L362.24 444.61 L363.23 443.63 L364.22 442.62 L365.20 441.60 L366.19 440.55 L367.18 439.47 L368.17 438.39 L369.16 437.28 L370.14 436.17 L371.13 435.04 L372.12 433.91 L373.11 432.77 L374.09 431.63 L375.08 430.49 L376.07 429.36 L377.06 428.23 L378.04 427.12 L379.03 426.01 L380.02 424.93 L381.01 423.85 L382.00 422.80 L382.98 421.78 L383.97 420.77 L384.96 419.79 L385.95 418.84 L386.93 417.92 L387.92 417.03 L388.91 416.18 L389.90 415.35 L390.88 414.57 L391.87 413.81 L392.86 413.09 L393.85 412.41 L394.83 411.77 L395.82 411.16 L396.81 410.59 L397.80 410.05 L398.79 409.55 L399.77 409.09 L400.76 408.66 L401.75 408.27 L402.74 407.91 L403.72 407.58 L404.71 407.29 L405.70 407.03 L406.69 406.80 L407.67 406.61 L408.66 406.44 L409.65 406.31 L410.64 406.20 L411.62 406.13 L412.61 406.08 L413.60 406.07" stroke-width="10.90"/>
<path d="M413.60 458.33 L414.59 458.32 L415.58 458.27 L416.56 458.20 L417.55 458.09 L418.54 457.96 L419.53 457.79 L420.51 457.60 L421.50 457.37 L422.49 457.11 L423.48 456.82 L424.46 456.49 L425.45 456.13 L426.44 455.74 L427.43 455.31 L428.41 454.85 L429.40 454.35 L430.39 453.81 L431.38 453.24 L432.37 452.63 L433.35 451.99 L434.34 451.31 L435.33 450.59 L436.32 449.83 L437.30 449.05 L438.29 448.22 L439.28 447.37 L440.27 446.48 L441.25 445.56 L442.24 444.61 L443.23 443.63 L444.22 442.62 L445.20 441.60 L446.19 440.55 L447.18 439.47 L448.17 438.39 L449.16 437.28 L450.14 436.17 L451.13 435.04 L452.12 433.91 L453.11 432.77 L454.09 431.63 L455.08 430.49 L456.07 429.36 L457.06 428.23 L458.04 427.12 L459.03 426.01 L460.02 424.93 L461.01 423.85 L462.00 422.80 L462.98 421.78 L463.97 420.77 L464.96 419.79 L465.95 418.84 L466.93 417.92 L467.92 417.03 L468.91 416.18 L469.90 415.35 L470.88 414.57 L471.87 413.81 L472.86 413.09 L473.85 412.41 L474.83 411.77 L475.82 411.16 L476.81 410.59 L477.80 410.05 L478.79 409.55 L479.77 409.09 L480.76 408.66 L481.75 408.27 L482.74 407.91 L483.72 407.58 L484.71 407.29 L485.70 407.03 L486.69 406.80 L487.67 406.61 L488.66 406.44 L489.65 406.31 L490.64 406.20 L491.62 406.13 L492.61 406.08 L493.60 406.07" stroke-width="10.90"/>
<path d="M493.60 458.33 L494.59 458.32 L495.58 458.27 L496.56 458.20 L497.55 458.09 L498.54 457.96 L499.53 457.79 L500.51 457.60 L501.50 457.37 L502.49 457.11 L503.48 456.82 L504.46 456.49 L505.45 456.13 L506.44 455.74 L507.43 455.31 L508.41 454.85 L509.40 454.35 L510.39 453.81 L511.38 453.24 L512.37 452.63 L513.35 451.99 L514.34 451.31 L515.33 450.59 L516.32 449.83 L517.30 449.05 L518.29 448.22 L519.28 447.37 L520.27 446.48 L521.25 445.56 L522.24 444.61 L523.23 443.63 L524.22 442.62 L525.20 441.60 L526.19 440.55 L527.18 439.47 L528.17 438.39 L529.16 437.28 L530.14 436.17 L531.13 435.04 L532.12 433.91 L533.11 432.77 L534.09 431.63 L535.08 430.49 L536.07 429.36 L537.06 428.23 L538.04 427.12 L539.03 426.01 L540.02 424.93 L541.01 423.85 L542.00 422.80 L542.98 421.78 L543.97 420.77 L544.96 419.79 L545.95 418.84 L546.93 417.92 L547.92 417.03 L548.91 416.18 L549.90 415.35 L550.88 414.57 L551.87 413.81 L552.86 413.09 L553.85 412.41 L554.83 411.77 L555.82 411.16 L556.81 410.59 L557.80 410.05 L558.79 409.55 L559.77 409.09 L560.76 408.66 L561.75 408.27 L562.74 407.91 L563.72 407.58 L564.71 407.29 L565.70 407.03 L566.69 406.80 L567.67 406.61 L568.66 406.44 L569.65 406.31 L570.64 406.20 L571.62 406.13 L572.61 406.08 L573.60 406.07" stroke-width="10.90"/>
<path d="M573.60 458.33 L574.59 458.32 L575.58 458.27 L576.56 458.20 L577.55 458.09 L578.54 457.96 L579.53 457.79 L580.51 457.60 L581.50 457.37 L582.49 457.11 L583.48 456.82 L584.46 456.49 L585.45 456.13 L586.44 455.74 L587.43 455.31 L588.41 454.85 L589.40 454.35 L590.39 453.81 L591.38 453.24 L592.37 452.63 L593.35 451.99 L594.34 451.31 L595.33 450.59 L596.32 449.83 L597.30 449.05 L598.29 448.22 L599.28 447.37 L600.27 446.48 L601.25 445.56 L602.24 444.61 L603.23 443.63 L604.22 442.62 L605.20 441.60 L606.19 440.55 L607.18 439.47 L608.17 438.39 L609.16 437.28 L610.14 436.17 L611.13 435.04 L612.12 433.91 L613.11 432.77 L614.09 431.63 L615.08 430.49 L616.07 429.36 L617.06 428.23 L618.04 427.12 L619.03 426.01 L620.02 424.93 L621.01 423.85 L622.00 422.80 L622.98 421.78 L623.97 420.77 L624.96 419.79 L625.95 418.84 L626.93 417.92 L627.92 417.03 L628.91 416.18 L629.90 415.35 L630.88 414.57 L631.87 413.81 L632.86 413.09 L633.85 412.41 L634.83 411.77 L635.82 411.16 L636.81 410.59 L637.80 410.05 L638.79 409.55 L639.77 409.09 L640.76 408.66 L641.75 408.27 L642.74 407.91 L643.72 407.58 L644.71 407.29 L645.70 407.03 L646.69 406.80 L647.67 406.61 L648.66 406.44 L649.65 406.31 L650.64 406.20 L651.62 406.13 L652.61 406.08 L653.60 406.07" stroke-width="10.90"/>
<path d="M333.60 406.07 L334.59 406.08 L335.58 406.13 L336.56 406.20 L337.55 406.31 L338.54 406.44 L339.53 406.61 L340.51 406.80 L341.50 407.03 L342.49 407.29 L343.48 407.58 L344.46 407.91 L345.45 408.27 L346.44 408.66 L347.43 409.09 L348.41 409.55 L349.40 410.05 L350.39 410.59 L351.38 411.16 L352.37 411.77 L353.35 412.41 L354.34 413.09 L355.33 413.81 L356.32 414.57 L357.30 415.35 L358.29 416.18 L359.28 417.03 L360.27 417.92 L361.25 418.84 L362.24 419.79 L363.23 420.77 L364.22 421.78 L365.20 422.80 L366.19 423.85 L367.18 424.93 L368.17 426.01 L369.16 427.12 L370.14 428.23 L371.13 429.36 L372.12 430.49 L373.11 431.63 L374.09 432.77 L375.08 433.91 L376.07 435.04 L377.06 436.17 L378.04 437.28 L379.03 438.39 L380.02 439.47 L381.01 440.55 L382.00 441.60 L382.98 442.62 L383.97 443.63 L384.96 444.61 L385.95 445.56 L386.93 446.48 L387.92 447.37 L388.91 448.22 L389.90 449.05 L390.88 449.83 L391.87 450.59 L392.86 451.31 L393.85 451.99 L394.83 452.63 L395.82 453.24 L396.81 453.81 L397.80 454.35 L398.79 454.85 L399.77 455.31 L400.76 455.74 L401.75 456.13 L402.74 456.49 L403.72 456.82 L404.71 457.11 L405.70 457.37 L406.69 457.60 L407.67 457.79 L408.66 457.96 L409.65 458.09 L410.64 458.20 L411.62 458.27 L412.61 458.32 L413.60 458.33" stroke-width="10.90"/>
<path d="M413.60 406.07 L414.59 406.08 L415.58 406.13 L416.56 406.20 L417.55 406.31 L418.54 406.44 L419.53 406.61 L420.51 406.80 L421.50 407.03 L422.49 407.29 L423.48 407.58 L424.46 407.91 L425.45 408.27 L426.44 408.66 L427.43 409.09 L428.41 409.55 L429.40 410.05 L430.39 410.59 L431.38 411.16 L432.37 411.77 L433.35 412.41 L434.34 413.09 L435.33 413.81 L436.32 414.57 L437.30 415.35 L438.29 416.18 L439.28 417.03 L440.27 417.92 L441.25 418.84 L442.24 419.79 L443.23 420.77 L444.22 421.78 L445.20 422.80 L446.19 423.85 L447.18 424.93 L448.17 426.01 L449.16 427.12 L450.14 428.23 L451.13 429.36 L452.12 430.49 L453.11 431.63 L454.09 432.77 L455.08 433.91 L456.07 435.04 L457.06 436.17 L458.04 437.28 L459.03 438.39 L460.02 439.47 L461.01 440.55 L462.00 441.60 L462.98 442.62 L463.97 443.63 L464.96 444.61 L465.95 445.56 L466.93 446.48 L467.92 447.37 L468.91 448.22 L469.90 449.05 L470.88 449.83 L471.87 450.59 L472.86 451.31 L473.85 451.99 L474.83 452.63 L475.82 453.24 L476.81 453.81 L477.80 454.35 L478.79 454.85 L479.77 455.31 L480.76 455.74 L481.75 456.13 L482.74 456.49 L483.72 456.82 L484.71 457.11 L485.70 457.37 L486.69 457.60 L487.67 457.79 L488.66 457.96 L489.65 458.09 L490.64 458.20 L491.62 458.27 L492.61 458.32 L493.60 458.33" stroke-width="10.90"/>
<path d="M493.60 406.07 L494.59 406.08 L495.58 406.13 L496.56 406.20 L497.55 406.31 L498.54 406.44 L499.53 406.61 L500.51 406.80 L501.50 407.03 L502.49 407.29 L503.48 407.58 L504.46 407.91 L505.45 408.27 L506.44 408.66 L507.43 409.09 L508.41 409.55 L509.40 410.05 L510.39 410.59 L511.38 411.16 L512.37 411.77 L513.35 412.41 L514.34 413.09 L515.33 413.81 L516.32 414.57 L517.30 415.35 L518.29 416.18 L519.28 417.03 L520.27 417.92 L521.25 418.84 L522.24 419.79 L523.23 420.77 L524.22 421.78 L525.20 422.80 L526.19 423.85 L527.18 424.93 L528.17 426.01 L529.16 427.12 L530.14 428.23 L531.13 429.36 L532.12 430.49 L533.11 431.63 L534.09 432.77 L535.08 433.91 L536.07 435.04 L537.06 436.17 L538.04 437.28 L539.03 438.39 L540.02 439.47 L541.01 440.55 L542.00 441.60 L542.98 442.62 L543.97 443.63 L544.96 444.61 L545.95 445.56 L546.93 446.48 L547.92 447.37 L548.91 448.22 L549.90 449.05 L550.88 449.83 L551.87 450.59 L552.86 451.31 L553.85 451.99 L554.83 452.63 L555.82 453.24 L556.81 453.81 L557.80 454.35 L558.79 454.85 L559.77 455.31 L560.76 455.74 L561.75 456.13 L562.74 456.49 L563.72 456.82 L564.71 457.11 L565.70 457.37 L566.69 457.60 L567.67 457.79 L568.66 457.96 L569.65 458.09 L570.64 458.20 L571.62 458.27 L572.61 458.32 L573.60 458.33" stroke-width="10.90"/>
<path d="M573.60 406.07 L574.59 406.08 L575.58 406.13 L576.56 406.20 L577.55 406.31 L578.54 406.44 L579.53 406.61 L580.51 406.80 L581.50 407.03 L582.49 407.29 L583.48 407.58 L584.46 407.91 L585.45 408.27 L586.44 408.66 L587.43 409.09 L588.41 409.55 L589.40 410.05 L590.39 410.59 L591.38 411.16 L592.37 411.77 L593.35 412.41 L594.34 413.09 L595.33 413.81 L596.32 414.57 L597.30 415.35 L598.29 416.18 L599.28 417.03 L600.27 417.92 L601.25 418.84 L602.24 419.79 L603.23 420.77 L604.22 421.78 L605.20 422.80 L606.19 423.85 L607.18 424.93 L608.17 426.01 L609.16 427.12 L610.14 428.23 L611.13 429.36 L612.12 430.49 L613.11 431.63 L614.09 432.77 L615.08 433.91 L616.07 435.04 L617.06 436.17 L618.04 437.28 L619.03 438.39 L620.02 439.47 L621.01 440.55 L622.00 441.60 L622.98 442.62 L623.97 443.63 L624.96 444.61 L625.95 445.56 L626.93 446.48 L627.92 447.37 L628.91 448.22 L629.90 449.05 L630.88 449.83 L631.87 450.59 L632.86 451.31 L633.85 451.99 L634.83 452.63 L635.82 453.24 L636.81 453.81 L637.80 454.35 L638.79 454.85 L639.77 455.31 L640.76 455.74 L641.75 456.13 L642.74 456.49 L643.72 456.82 L644.71 457.11 L645.70 457.37 L646.69 457.60 L647.67 457.79 L648.66 457.96 L649.65 458.09 L650.64 458.20 L651.62 458.27 L652.61 458.32 L653.60 458.33" stroke-width="10.90"/>
<path d="M338.20 416.91 L338.20 448.69" stroke-width="5.95"/>
<path d="M347.40 420.42 L347.40 445.19" stroke-width="5.95"/>
<path d="M356.60 427.44 L356.60 438.17" stroke-width="5.95"/>
<path d="M409.00 416.91 L409.00 448.69" stroke-width="5.95"/>
<path d="M418.20 416.91 L418.20 448.69" stroke-width="5.95"/>
<path d="M399.80 420.42 L399.80 445.19" stroke-width="5.95"/>
<path d="M427.40 420.42 L427.40 445.19" stroke-width="5.95"/>
<path d="M390.60 427.44 L390.60 438.17" stroke-width="5.95"/>
<path d="M436.60 427.44 L436.60 438.17" stroke-width="5.95"/>
<path d="M489.00 416.91 L489.00 448.69" stroke-width="5.95"/>
<path d="M498.20 416.91 L498.20 448.69" stroke-width="5.95"/>
<path d="M479.80 420.42 L479.80 445.19" stroke-width="5.95"/>
<path d="M507.40 420.42 L507.40 445.19" stroke-width="5.95"/>
<path d="M470.60 427.44 L470.60 438.17" stroke-width="5.95"/>
<path d="M516.60 427.44 L516.60 438.17" stroke-width="5.95"/>
<path d="M569.00 416.91 L569.00 448.69" stroke-width="5.95"/>
<path d="M578.20 416.91 L578.20 448.69" stroke-width="5.95"/>
<path d="M559.80 420.42 L559.80 445.19" stroke-width="5.95"/>
<path d="M587.40 420.42 L587.40 445.19" stroke-width="5.95"/>
<path d="M550.60 427.44 L550.60 438.17" stroke-width="5.95"/>
<path d="M596.60 427.44 L596.60 438.17" stroke-width="5.95"/>
<path d="M649.00 416.91 L649.00 448.69" stroke-width="5.95"/>
<path d="M639.80 420.42 L639.80 445.19" stroke-width="5.95"/>
<path d="M630.60 427.44 L630.60 438.17" stroke-width="5.95"/>
</g>
<g fill="none" stroke-linecap="round">
<path d="M338.20 416.91 L338.20 448.69" stroke="#a7a8aa" stroke-width="3.95"/>
<path d="M347.40 420.42 L347.40 445.19" stroke="#a7a8aa" stroke-width="3.95"/>
<path d="M356.60 427.44 L356.60 438.17" stroke="#a7a8aa" stroke-width="3.95"/>
<path d="M409.00 416.91 L409.00 448.69" stroke="#a7a8aa" stroke-width="3.95"/>
<path d="M418.20 416.91 L418.20 448.69" stroke="#a7a8aa" stroke-width="3.95"/>
<path d="M399.80 420.42 L399.80 445.19" stroke="#a7a8aa" stroke-width="3.95"/>
<path d="M427.40 420.42 L427.40 445.19" stroke="#a7a8aa" stroke-width="3.95"/>
<path d="M390.60 427.44 L390.60 438.17" stroke="#a7a8aa" stroke-width="3.95"/>
<path d="M436.60 427.44 L436.60 438.17" stroke="#a7a8aa" stroke-width="3.95"/>
<path d="M489.00 416.91 L489.00 448.69" stroke="#a7a8aa" stroke-width="3.95"/>
<path d="M498.20 416.91 L498.20 448.69" stroke="#a7a8aa" stroke-width="3.95"/>
<path d="M479.80 420.42 L479.80 445.19" stroke="#a7a8aa" stroke-width="3.95"/>
<path d="M507.40 420.42 L507.40 445.19" stroke="#a7a8aa" stroke-width="3.95"/>
<path d="M470.60 427.44 L470.60 438.17" stroke="#a7a8aa" stroke-width="3.95"/>
<path d="M516.60 427.44 L516.60 438.17" stroke="#a7a8aa" stroke-width="3.95"/>
<path d="M569.00 416.91 L569.00 448.69" stroke="#a7a8aa" stroke-width="3.95"/>
<path d="M578.20 416.91 L578.20 448.69" stroke="#a7a8aa" stroke-width="3.95"/>
<path d="M559.80 420.42 L559.80 445.19" stroke="#a7a8aa" stroke-width="3.95"/>
<path d="M587.40 420.42 L587.40 445.19" stroke="#a7a8aa" stroke-width="3.95"/>
<path d="M550.60 427.44 L550.60 438.17" stroke="#a7a8aa" stroke-width="3.95"/>
<path d="M596.60 427.44 L596.60 438.17" stroke="#a7a8aa" stroke-width="3.95"/>
<path d="M649.00 416.91 L649.00 448.69" stroke="#a7a8aa" stroke-width="3.95"/>
<path d="M639.80 420.42 L639.80 445.19" stroke="#a7a8aa" stroke-width="3.95"/>
<path d="M630.60 427.44 L630.60 438.17" stroke="#a7a8aa" stroke-width="3.95"/>
<path d="M333.60 458.33 L334.59 458.32 L335.58 458.27 L336.56 458.20 L337.55 458.09 L338.54 457.96 L339.53 457.79 L340.51 457.60 L341.50 457.37 L342.49 457.11 L343.48 456.82 L344.46 456.49 L345.45 456.13 L346.44 455.74 L347.43 455.31 L348.41 454.85 L349.40 454.35 L350.39 453.81 L351.38 453.24 L352.37 452.63 L353.35 451.99 L354.34 451.31 L355.33 450.59 L356.32 449.83 L357.30 449.05 L358.29 448.22 L359.28 447.37 L360.27 446.48 L361.25 445.56 L362.24 444.61 L363.23 443.63 L364.22 442.62 L365.20 441.60 L366.19 440.55 L367.18 439.47 L368.17 438.39 L369.16 437.28 L370.14 436.17 L371.13 435.04 L372.12 433.91 L373.11 432.77 L374.09 431.63 L375.08 430.49 L376.07 429.36 L377.06 428.23 L378.04 427.12 L379.03 426.01 L380.02 424.93 L381.01 423.85 L382.00 422.80 L382.98 421.78 L383.97 420.77 L384.96 419.79 L385.95 418.84 L386.93 417.92 L387.92 417.03 L388.91 416.18 L389.90 415.35 L390.88 414.57 L391.87 413.81 L392.86 413.09 L393.85 412.41 L394.83 411.77 L395.82 411.16 L396.81 410.59 L397.80 410.05 L398.79 409.55 L399.77 409.09 L400.76 408.66 L401.75 408.27 L402.74 407.91 L403.72 407.58 L404.71 407.29 L405.70 407.03 L406.69 406.80 L407.67 406.61 L408.66 406.44 L409.65 406.31 L410.64 406.20 L411.62 406.13 L412.61 406.08 L413.60 406.07" stroke="#a7a8aa" stroke-width="8.90"/>
<path d="M413.60 458.33 L414.59 458.32 L415.58 458.27 L416.56 458.20 L417.55 458.09 L418.54 457.96 L419.53 457.79 L420.51 457.60 L421.50 457.37 L422.49 457.11 L423.48 456.82 L424.46 456.49 L425.45 456.13 L426.44 455.74 L427.43 455.31 L428.41 454.85 L429.40 454.35 L430.39 453.81 L431.38 453.24 L432.37 452.63 L433.35 451.99 L434.34 451.31 L435.33 450.59 L436.32 449.83 L437.30 449.05 L438.29 448.22 L439.28 447.37 L440.27 446.48 L441.25 445.56 L442.24 444.61 L443.23 443.63 L444.22 442.62 L445.20 441.60 L446.19 440.55 L447.18 439.47 L448.17 438.39 L449.16 437.28 L450.14 436.17 L451.13 435.04 L452.12 433.91 L453.11 432.77 L454.09 431.63 L455.08 430.49 L456.07 429.36 L457.06 428.23 L458.04 427.12 L459.03 426.01 L460.02 424.93 L461.01 423.85 L462.00 422.80 L462.98 421.78 L463.97 420.77 L464.96 419.79 L465.95 418.84 L466.93 417.92 L467.92 417.03 L468.91 416.18 L469.90 415.35 L470.88 414.57 L471.87 413.81 L472.86 413.09 L473.85 412.41 L474.83 411.77 L475.82 411.16 L476.81 410.59 L477.80 410.05 L478.79 409.55 L479.77 409.09 L480.76 408.66 L481.75 408.27 L482.74 407.91 L483.72 407.58 L484.71 407.29 L485.70 407.03 L486.69 406.80 L487.67 406.61 L488.66 406.44 L489.65 406.31 L490.64 406.20 L491.62 406.13 L492.61 406.08 L493.60 406.07" stroke="#a7a8aa" stroke-width="8.90"/>
<path d="M493.60 458.33 L494.59 458.32 L495.58 458.27 L496.56 458.20 L497.55 458.09 L498.54 457.96 L499.53 457.79 L500.51 457.60 L501.50 457.37 L502.49 457.11 L503.48 456.82 L504.46 456.49 L505.45 456.13 L506.44 455.74 L507.43 455.31 L508.41 454.85 L509.40 454.35 L510.39 453.81 L511.38 453.24 L512.37 452.63 L513.35 451.99 L514.34 451.31 L515.33 450.59 L516.32 449.83 L517.30 449.05 L518.29 448.22 L519.28 447.37 L520.27 446.48 L521.25 445.56 L522.24 444.61 L523.23 443.63 L524.22 442.62 L525.20 441.60 L526.19 440.55 L527.18 439.47 L528.17 438.39 L529.16 437.28 L530.14 436.17 L531.13 435.04 L532.12 433.91 L533.11 432.77 L534.09 431.63 L535.08 430.49 L536.07 429.36 L537.06 428.23 L538.04 427.12 L539.03 426.01 L540.02 424.93 L541.01 423.85 L542.00 422.80 L542.98 421.78 L543.97 420.77 L544.96 419.79 L545.95 418.84 L546.93 417.92 L547.92 417.03 L548.91 416.18 L549.90 415.35 L550.88 414.57 L551.87 413.81 L552.86 413.09 L553.85 412.41 L554.83 411.77 L555.82 411.16 L556.81 410.59 L557.80 410.05 L558.79 409.55 L559.77 409.09 L560.76 408.66 L561.75 408.27 L562.74 407.91 L563.72 407.58 L564.71 407.29 L565.70 407.03 L566.69 406.80 L567.67 406.61 L568.66 406.44 L569.65 406.31 L570.64 406.20 L571.62 406.13 L572.61 406.08 L573.60 406.07" stroke="#a7a8aa" stroke-width="8.90"/>
<path d="M573.60 458.33 L574.59 458.32 L575.58 458.27 L576.56 458.20 L577.55 458.09 L578.54 457.96 L579.53 457.79 L580.51 457.60 L581.50 457.37 L582.49 457.11 L583.48 456.82 L584.46 456.49 L585.45 456.13 L586.44 455.74 L587.43 455.31 L588.41 454.85 L589.40 454.35 L590.39 453.81 L591.38 453.24 L592.37 452.63 L593.35 451.99 L594.34 451.31 L595.33 450.59 L596.32 449.83 L597.30 449.05 L598.29 448.22 L599.28 447.37 L600.27 446.48 L601.25 445.56 L602.24 444.61 L603.23 443.63 L604.22 442.62 L605.20 441.60 L606.19 440.55 L607.18 439.47 L608.17 438.39 L609.16 437.28 L610.14 436.17 L611.13 435.04 L612.12 433.91 L613.11 432.77 L614.09 431.63 L615.08 430.49 L616.07 429.36 L617.06 428.23 L618.04 427.12 L619.03 426.01 L620.02 424.93 L621.01 423.85 L622.00 422.80 L622.98 421.78 L623.97 420.77 L624.96 419.79 L625.95 418.84 L626.93 417.92 L627.92 417.03 L628.91 416.18 L629.90 415.35 L630.88 414.57 L631.87 413.81 L632.86 413.09 L633.85 412.41 L634.83 411.77 L635.82 411.16 L636.81 410.59 L637.80 410.05 L638.79 409.55 L639.77 409.09 L640.76 408.66 L641.75 408.27 L642.74 407.91 L643.72 407.58 L644.71 407.29 L645.70 407.03 L646.69 406.80 L647.67 406.61 L648.66 406.44 L649.65 406.31 L650.64 406.20 L651.62 406.13 L652.61 406.08 L653.60 406.07" stroke="#a7a8aa" stroke-width="8.90"/>
<path d="M366.60 424.29 L367.08 424.82 L367.57 425.35 L368.05 425.88 L368.53 426.42 L369.01 426.96 L369.50 427.50 L369.98 428.05 L370.46 428.60 L370.94 429.15 L371.43 429.70 L371.91 430.25 L372.39 430.81 L372.88 431.37 L373.36 431.92 L373.84 432.48 L374.32 433.03 L374.81 433.59 L375.29 434.15 L375.77 434.70 L376.26 435.25 L376.74 435.80 L377.22 436.35 L377.70 436.90 L378.19 437.44 L378.67 437.98 L379.15 438.52 L379.63 439.05 L380.12 439.58 L380.60 440.11" stroke="#f4f2f1" stroke-linecap="butt" stroke-width="14.30"/>
<path d="M333.60 406.07 L334.59 406.08 L335.58 406.13 L336.56 406.20 L337.55 406.31 L338.54 406.44 L339.53 406.61 L340.51 406.80 L341.50 407.03 L342.49 407.29 L343.48 407.58 L344.46 407.91 L345.45 408.27 L346.44 408.66 L347.43 409.09 L348.41 409.55 L349.40 410.05 L350.39 410.59 L351.38 411.16 L352.37 411.77 L353.35 412.41 L354.34 413.09 L355.33 413.81 L356.32 414.57 L357.30 415.35 L358.29 416.18 L359.28 417.03 L360.27 417.92 L361.25 418.84 L362.24 419.79 L363.23 420.77 L364.22 421.78 L365.20 422.80 L366.19 423.85 L367.18 424.93 L368.17 426.01 L369.16 427.12 L370.14 428.23 L371.13 429.36 L372.12 430.49 L373.11 431.63 L374.09 432.77 L375.08 433.91 L376.07 435.04 L377.06 436.17 L378.04 437.28 L379.03 438.39 L380.02 439.47 L381.01 440.55 L382.00 441.60 L382.98 442.62 L383.97 443.63 L384.96 444.61 L385.95 445.56 L386.93 446.48 L387.92 447.37 L388.91 448.22 L389.90 449.05 L390.88 449.83 L391.87 450.59 L392.86 451.31 L393.85 451.99 L394.83 452.63 L395.82 453.24 L396.81 453.81 L397.80 454.35 L398.79 454.85 L399.77 455.31 L400.76 455.74 L401.75 456.13 L402.74 456.49 L403.72 456.82 L404.71 457.11 L405.70 457.37 L406.69 457.60 L407.67 457.79 L408.66 457.96 L409.65 458.09 L410.64 458.20 L411.62 458.27 L412.61 458.32 L413.60 458.33" stroke="#a7a8aa" stroke-width="8.90"/>
<path d="M446.60 424.29 L447.08 424.82 L447.57 425.35 L448.05 425.88 L448.53 426.42 L449.01 426.96 L449.50 427.50 L449.98 428.05 L450.46 428.60 L450.94 429.15 L451.43 429.70 L451.91 430.25 L452.39 430.81 L452.88 431.37 L453.36 431.92 L453.84 432.48 L454.32 433.03 L454.81 433.59 L455.29 434.15 L455.77 434.70 L456.26 435.25 L456.74 435.80 L457.22 436.35 L457.70 436.90 L458.19 437.44 L458.67 437.98 L459.15 438.52 L459.63 439.05 L460.12 439.58 L460.60 440.11" stroke="#f4f2f1" stroke-linecap="butt" stroke-width="14.30"/>
<path d="M413.60 406.07 L414.59 406.08 L415.58 406.13 L416.56 406.20 L417.55 406.31 L418.54 406.44 L419.53 406.61 L420.51 406.80 L421.50 407.03 L422.49 407.29 L423.48 407.58 L424.46 407.91 L425.45 408.27 L426.44 408.66 L427.43 409.09 L428.41 409.55 L429.40 410.05 L430.39 410.59 L431.38 411.16 L432.37 411.77 L433.35 412.41 L434.34 413.09 L435.33 413.81 L436.32 414.57 L437.30 415.35 L438.29 416.18 L439.28 417.03 L440.27 417.92 L441.25 418.84 L442.24 419.79 L443.23 420.77 L444.22 421.78 L445.20 422.80 L446.19 423.85 L447.18 424.93 L448.17 426.01 L449.16 427.12 L450.14 428.23 L451.13 429.36 L452.12 430.49 L453.11 431.63 L454.09 432.77 L455.08 433.91 L456.07 435.04 L457.06 436.17 L458.04 437.28 L459.03 438.39 L460.02 439.47 L461.01 440.55 L462.00 441.60 L462.98 442.62 L463.97 443.63 L464.96 444.61 L465.95 445.56 L466.93 446.48 L467.92 447.37 L468.91 448.22 L469.90 449.05 L470.88 449.83 L471.87 450.59 L472.86 451.31 L473.85 451.99 L474.83 452.63 L475.82 453.24 L476.81 453.81 L477.80 454.35 L478.79 454.85 L479.77 455.31 L480.76 455.74 L481.75 456.13 L482.74 456.49 L483.72 456.82 L484.71 457.11 L485.70 457.37 L486.69 457.60 L487.67 457.79 L488.66 457.96 L489.65 458.09 L490.64 458.20 L491.62 458.27 L492.61 458.32 L493.60 458.33" stroke="#a7a8aa" stroke-width="8.90"/>
<path d="M526.60 424.29 L527.08 424.82 L527.57 425.35 L528.05 425.88 L528.53 426.42 L529.01 426.96 L529.50 427.50 L529.98 428.05 L530.46 428.60 L530.94 429.15 L531.43 429.70 L531.91 430.25 L532.39 430.81 L532.88 431.37 L533.36 431.92 L533.84 432.48 L534.32 433.03 L534.81 433.59 L535.29 434.15 L535.77 434.70 L536.26 435.25 L536.74 435.80 L537.22 436.35 L537.70 436.90 L538.19 437.44 L538.67 437.98 L539.15 438.52 L539.63 439.05 L540.12 439.58 L540.60 440.11" stroke="#f4f2f1" stroke-linecap="butt" stroke-width="14.30"/>
<path d="M493.60 406.07 L494.59 406.08 L495.58 406.13 L496.56 406.20 L497.55 406.31 L498.54 406.44 L499.53 406.61 L500.51 406.80 L501.50 407.03 L502.49 407.29 L503.48 407.58 L504.46 407.91 L505.45 408.27 L506.44 408.66 L507.43 409.09 L508.41 409.55 L509.40 410.05 L510.39 410.59 L511.38 411.16 L512.37 411.77 L513.35 412.41 L514.34 413.09 L515.33 413.81 L516.32 414.57 L517.30 415.35 L518.29 416.18 L519.28 417.03 L520.27 417.92 L521.25 418.84 L522.24 419.79 L523.23 420.77 L524.22 421.78 L525.20 422.80 L526.19 423.85 L527.18 424.93 L528.17 426.01 L529.16 427.12 L530.14 428.23 L531.13 429.36 L532.12 430.49 L533.11 431.63 L534.09 432.77 L535.08 433.91 L536.07 435.04 L537.06 436.17 L538.04 437.28 L539.03 438.39 L540.02 439.47 L541.01 440.55 L542.00 441.60 L542.98 442.62 L543.97 443.63 L544.96 444.61 L545.95 445.56 L546.93 446.48 L547.92 447.37 L548.91 448.22 L549.90 449.05 L550.88 449.83 L551.87 450.59 L552.86 451.31 L553.85 451.99 L554.83 452.63 L555.82 453.24 L556.81 453.81 L557.80 454.35 L558.79 454.85 L559.77 455.31 L560.76 455.74 L561.75 456.13 L562.74 456.49 L563.72 456.82 L564.71 457.11 L565.70 457.37 L566.69 457.60 L567.67 457.79 L568.66 457.96 L569.65 458.09 L570.64 458.20 L571.62 458.27 L572.61 458.32 L573.60 458.33" stroke="#a7a8aa" stroke-width="8.90"/>
<path d="M606.60 424.29 L607.08 424.82 L607.57 425.35 L608.05 425.88 L608.53 426.42 L609.01 426.96 L609.50 427.50 L609.98 428.05 L610.46 428.60 L610.94 429.15 L611.43 429.70 L611.91 430.25 L612.39 430.81 L612.88 431.37 L613.36 431.92 L613.84 432.48 L614.32 433.03 L614.81 433.59 L615.29 434.15 L615.77 434.70 L616.26 435.25 L616.74 435.80 L617.22 436.35 L617.70 436.90 L618.19 437.44 L618.67 437.98 L619.15 438.52 L619.63 439.05 L620.12 439.58 L620.60 440.11" stroke="#f4f2f1" stroke-linecap="butt" stroke-width="14.30"/>
<path d="M573.60 406.07 L574.59 406.08 L575.58 406.13 L576.56 406.20 L577.55 406.31 L578.54 406.44 L579.53 406.61 L580.51 406.80 L581.50 407.03 L582.49 407.29 L583.48 407.58 L584.46 407.91 L585.45 408.27 L586.44 408.66 L587.43 409.09 L588.41 409.55 L589.40 410.05 L590.39 410.59 L591.38 411.16 L592.37 411.77 L593.35 412.41 L594.34 413.09 L595.33 413.81 L596.32 414.57 L597.30 415.35 L598.29 416.18 L599.28 417.03 L600.27 417.92 L601.25 418.84 L602.24 419.79 L603.23 420.77 L604.22 421.78 L605.20 422.80 L606.19 423.85 L607.18 424.93 L608.17 426.01 L609.16 427.12 L610.14 428.23 L611.13 429.36 L612.12 430.49 L613.11 431.63 L614.09 432.77 L615.08 433.91 L616.07 435.04 L617.06 436.17 L618.04 437.28 L619.03 438.39 L620.02 439.47 L621.01 440.55 L622.00 441.60 L622.98 442.62 L623.97 443.63 L624.96 444.61 L625.95 445.56 L626.93 446.48 L627.92 447.37 L628.91 448.22 L629.90 449.05 L630.88 449.83 L631.87 450.59 L632.86 451.31 L633.85 451.99 L634.83 452.63 L635.82 453.24 L636.81 453.81 L637.80 454.35 L638.79 454.85 L639.77 455.31 L640.76 455.74 L641.75 456.13 L642.74 456.49 L643.72 456.82 L644.71 457.11 L645.70 457.37 L646.69 457.60 L647.67 457.79 L648.66 457.96 L649.65 458.09 L650.64 458.20 L651.62 458.27 L652.61 458.32 L653.60 458.33" stroke="#a7a8aa" stroke-width="8.90"/>
</g></g><g clip-path="url(#cl2)"><g fill="none" stroke="#fbfafa" stroke-linecap="round">
<path d="M332.60 543.80 L333.59 543.78 L334.58 543.74 L335.56 543.66 L336.55 543.56 L337.54 543.42 L338.53 543.25 L339.51 543.05 L340.50 542.81 L341.49 542.55 L342.48 542.25 L343.46 541.91 L344.45 541.55 L345.44 541.14 L346.43 540.70 L347.41 540.23 L348.40 539.72 L349.39 539.17 L350.38 538.58 L351.37 537.96 L352.35 537.29 L353.34 536.60 L354.33 535.86 L355.32 535.09 L356.30 534.28 L357.29 533.43 L358.28 532.56 L359.27 531.64 L360.25 530.70 L361.24 529.73 L362.23 528.72 L363.22 527.69 L364.20 526.64 L365.19 525.56 L366.18 524.46 L367.17 523.34 L368.16 522.21 L369.14 521.07 L370.13 519.91 L371.12 518.75 L372.11 517.58 L373.09 516.42 L374.08 515.25 L375.07 514.09 L376.06 512.93 L377.04 511.79 L378.03 510.66 L379.02 509.54 L380.01 508.44 L381.00 507.36 L381.98 506.31 L382.97 505.28 L383.96 504.27 L384.95 503.30 L385.93 502.36 L386.92 501.44 L387.91 500.57 L388.90 499.72 L389.88 498.91 L390.87 498.14 L391.86 497.40 L392.85 496.71 L393.83 496.04 L394.82 495.42 L395.81 494.83 L396.80 494.28 L397.79 493.77 L398.77 493.30 L399.76 492.86 L400.75 492.45 L401.74 492.09 L402.72 491.75 L403.71 491.45 L404.70 491.19 L405.69 490.95 L406.67 490.75 L407.66 490.58 L408.65 490.44 L409.64 490.34 L410.62 490.26 L411.61 490.22 L412.60 490.20" stroke-width="11.70"/>
<path d="M412.60 543.80 L413.59 543.78 L414.58 543.74 L415.56 543.66 L416.55 543.56 L417.54 543.42 L418.53 543.25 L419.51 543.05 L420.50 542.81 L421.49 542.55 L422.48 542.25 L423.46 541.91 L424.45 541.55 L425.44 541.14 L426.43 540.70 L427.41 540.23 L428.40 539.72 L429.39 539.17 L430.38 538.58 L431.37 537.96 L432.35 537.29 L433.34 536.60 L434.33 535.86 L435.32 535.09 L436.30 534.28 L437.29 533.43 L438.28 532.56 L439.27 531.64 L440.25 530.70 L441.24 529.73 L442.23 528.72 L443.22 527.69 L444.20 526.64 L445.19 525.56 L446.18 524.46 L447.17 523.34 L448.16 522.21 L449.14 521.07 L450.13 519.91 L451.12 518.75 L452.11 517.58 L453.09 516.42 L454.08 515.25 L455.07 514.09 L456.06 512.93 L457.04 511.79 L458.03 510.66 L459.02 509.54 L460.01 508.44 L461.00 507.36 L461.98 506.31 L462.97 505.28 L463.96 504.27 L464.95 503.30 L465.93 502.36 L466.92 501.44 L467.91 500.57 L468.90 499.72 L469.88 498.91 L470.87 498.14 L471.86 497.40 L472.85 496.71 L473.83 496.04 L474.82 495.42 L475.81 494.83 L476.80 494.28 L477.79 493.77 L478.77 493.30 L479.76 492.86 L480.75 492.45 L481.74 492.09 L482.72 491.75 L483.71 491.45 L484.70 491.19 L485.69 490.95 L486.67 490.75 L487.66 490.58 L488.65 490.44 L489.64 490.34 L490.62 490.26 L491.61 490.22 L492.60 490.20" stroke-width="11.70"/>
<path d="M492.60 543.80 L493.59 543.78 L494.58 543.74 L495.56 543.66 L496.55 543.56 L497.54 543.42 L498.53 543.25 L499.51 543.05 L500.50 542.81 L501.49 542.55 L502.48 542.25 L503.46 541.91 L504.45 541.55 L505.44 541.14 L506.43 540.70 L507.41 540.23 L508.40 539.72 L509.39 539.17 L510.38 538.58 L511.37 537.96 L512.35 537.29 L513.34 536.60 L514.33 535.86 L515.32 535.09 L516.30 534.28 L517.29 533.43 L518.28 532.56 L519.27 531.64 L520.25 530.70 L521.24 529.73 L522.23 528.72 L523.22 527.69 L524.20 526.64 L525.19 525.56 L526.18 524.46 L527.17 523.34 L528.16 522.21 L529.14 521.07 L530.13 519.91 L531.12 518.75 L532.11 517.58 L533.09 516.42 L534.08 515.25 L535.07 514.09 L536.06 512.93 L537.04 511.79 L538.03 510.66 L539.02 509.54 L540.01 508.44 L541.00 507.36 L541.98 506.31 L542.97 505.28 L543.96 504.27 L544.95 503.30 L545.93 502.36 L546.92 501.44 L547.91 500.57 L548.90 499.72 L549.88 498.91 L550.87 498.14 L551.86 497.40 L552.85 496.71 L553.83 496.04 L554.82 495.42 L555.81 494.83 L556.80 494.28 L557.79 493.77 L558.77 493.30 L559.76 492.86 L560.75 492.45 L561.74 492.09 L562.72 491.75 L563.71 491.45 L564.70 491.19 L565.69 490.95 L566.67 490.75 L567.66 490.58 L568.65 490.44 L569.64 490.34 L570.62 490.26 L571.61 490.22 L572.60 490.20" stroke-width="11.70"/>
<path d="M572.60 543.80 L573.59 543.78 L574.58 543.74 L575.56 543.66 L576.55 543.56 L577.54 543.42 L578.53 543.25 L579.51 543.05 L580.50 542.81 L581.49 542.55 L582.48 542.25 L583.46 541.91 L584.45 541.55 L585.44 541.14 L586.43 540.70 L587.41 540.23 L588.40 539.72 L589.39 539.17 L590.38 538.58 L591.37 537.96 L592.35 537.29 L593.34 536.60 L594.33 535.86 L595.32 535.09 L596.30 534.28 L597.29 533.43 L598.28 532.56 L599.27 531.64 L600.25 530.70 L601.24 529.73 L602.23 528.72 L603.22 527.69 L604.20 526.64 L605.19 525.56 L606.18 524.46 L607.17 523.34 L608.16 522.21 L609.14 521.07 L610.13 519.91 L611.12 518.75 L612.11 517.58 L613.09 516.42 L614.08 515.25 L615.07 514.09 L616.06 512.93 L617.04 511.79 L618.03 510.66 L619.02 509.54 L620.01 508.44 L621.00 507.36 L621.98 506.31 L622.97 505.28 L623.96 504.27 L624.95 503.30 L625.93 502.36 L626.92 501.44 L627.91 500.57 L628.90 499.72 L629.88 498.91 L630.87 498.14 L631.86 497.40 L632.85 496.71 L633.83 496.04 L634.82 495.42 L635.81 494.83 L636.80 494.28 L637.79 493.77 L638.77 493.30 L639.76 492.86 L640.75 492.45 L641.74 492.09 L642.72 491.75 L643.71 491.45 L644.70 491.19 L645.69 490.95 L646.67 490.75 L647.66 490.58 L648.65 490.44 L649.64 490.34 L650.62 490.26 L651.61 490.22 L652.60 490.20" stroke-width="11.70"/>
<path d="M332.60 490.20 L333.59 490.22 L334.58 490.26 L335.56 490.34 L336.55 490.44 L337.54 490.58 L338.53 490.75 L339.51 490.95 L340.50 491.19 L341.49 491.45 L342.48 491.75 L343.46 492.09 L344.45 492.45 L345.44 492.86 L346.43 493.30 L347.41 493.77 L348.40 494.28 L349.39 494.83 L350.38 495.42 L351.37 496.04 L352.35 496.71 L353.34 497.40 L354.33 498.14 L355.32 498.91 L356.30 499.72 L357.29 500.57 L358.28 501.44 L359.27 502.36 L360.25 503.30 L361.24 504.27 L362.23 505.28 L363.22 506.31 L364.20 507.36 L365.19 508.44 L366.18 509.54 L367.17 510.66 L368.16 511.79 L369.14 512.93 L370.13 514.09 L371.12 515.25 L372.11 516.42 L373.09 517.58 L374.08 518.75 L375.07 519.91 L376.06 521.07 L377.04 522.21 L378.03 523.34 L379.02 524.46 L380.01 525.56 L381.00 526.64 L381.98 527.69 L382.97 528.72 L383.96 529.73 L384.95 530.70 L385.93 531.64 L386.92 532.56 L387.91 533.43 L388.90 534.28 L389.88 535.09 L390.87 535.86 L391.86 536.60 L392.85 537.29 L393.83 537.96 L394.82 538.58 L395.81 539.17 L396.80 539.72 L397.79 540.23 L398.77 540.70 L399.76 541.14 L400.75 541.55 L401.74 541.91 L402.72 542.25 L403.71 542.55 L404.70 542.81 L405.69 543.05 L406.67 543.25 L407.66 543.42 L408.65 543.56 L409.64 543.66 L410.62 543.74 L411.61 543.78 L412.60 543.80" stroke-width="11.70"/>
<path d="M412.60 490.20 L413.59 490.22 L414.58 490.26 L415.56 490.34 L416.55 490.44 L417.54 490.58 L418.53 490.75 L419.51 490.95 L420.50 491.19 L421.49 491.45 L422.48 491.75 L423.46 492.09 L424.45 492.45 L425.44 492.86 L426.43 493.30 L427.41 493.77 L428.40 494.28 L429.39 494.83 L430.38 495.42 L431.37 496.04 L432.35 496.71 L433.34 497.40 L434.33 498.14 L435.32 498.91 L436.30 499.72 L437.29 500.57 L438.28 501.44 L439.27 502.36 L440.25 503.30 L441.24 504.27 L442.23 505.28 L443.22 506.31 L444.20 507.36 L445.19 508.44 L446.18 509.54 L447.17 510.66 L448.16 511.79 L449.14 512.93 L450.13 514.09 L451.12 515.25 L452.11 516.42 L453.09 517.58 L454.08 518.75 L455.07 519.91 L456.06 521.07 L457.04 522.21 L458.03 523.34 L459.02 524.46 L460.01 525.56 L461.00 526.64 L461.98 527.69 L462.97 528.72 L463.96 529.73 L464.95 530.70 L465.93 531.64 L466.92 532.56 L467.91 533.43 L468.90 534.28 L469.88 535.09 L470.87 535.86 L471.86 536.60 L472.85 537.29 L473.83 537.96 L474.82 538.58 L475.81 539.17 L476.80 539.72 L477.79 540.23 L478.77 540.70 L479.76 541.14 L480.75 541.55 L481.74 541.91 L482.72 542.25 L483.71 542.55 L484.70 542.81 L485.69 543.05 L486.67 543.25 L487.66 543.42 L488.65 543.56 L489.64 543.66 L490.62 543.74 L491.61 543.78 L492.60 543.80" stroke-width="11.70"/>
<path d="M492.60 490.20 L493.59 490.22 L494.58 490.26 L495.56 490.34 L496.55 490.44 L497.54 490.58 L498.53 490.75 L499.51 490.95 L500.50 491.19 L501.49 491.45 L502.48 491.75 L503.46 492.09 L504.45 492.45 L505.44 492.86 L506.43 493.30 L507.41 493.77 L508.40 494.28 L509.39 494.83 L510.38 495.42 L511.37 496.04 L512.35 496.71 L513.34 497.40 L514.33 498.14 L515.32 498.91 L516.30 499.72 L517.29 500.57 L518.28 501.44 L519.27 502.36 L520.25 503.30 L521.24 504.27 L522.23 505.28 L523.22 506.31 L524.20 507.36 L525.19 508.44 L526.18 509.54 L527.17 510.66 L528.16 511.79 L529.14 512.93 L530.13 514.09 L531.12 515.25 L532.11 516.42 L533.09 517.58 L534.08 518.75 L535.07 519.91 L536.06 521.07 L537.04 522.21 L538.03 523.34 L539.02 524.46 L540.01 525.56 L541.00 526.64 L541.98 527.69 L542.97 528.72 L543.96 529.73 L544.95 530.70 L545.93 531.64 L546.92 532.56 L547.91 533.43 L548.90 534.28 L549.88 535.09 L550.87 535.86 L551.86 536.60 L552.85 537.29 L553.83 537.96 L554.82 538.58 L555.81 539.17 L556.80 539.72 L557.79 540.23 L558.77 540.70 L559.76 541.14 L560.75 541.55 L561.74 541.91 L562.72 542.25 L563.71 542.55 L564.70 542.81 L565.69 543.05 L566.67 543.25 L567.66 543.42 L568.65 543.56 L569.64 543.66 L570.62 543.74 L571.61 543.78 L572.60 543.80" stroke-width="11.70"/>
<path d="M572.60 490.20 L573.59 490.22 L574.58 490.26 L575.56 490.34 L576.55 490.44 L577.54 490.58 L578.53 490.75 L579.51 490.95 L580.50 491.19 L581.49 491.45 L582.48 491.75 L583.46 492.09 L584.45 492.45 L585.44 492.86 L586.43 493.30 L587.41 493.77 L588.40 494.28 L589.39 494.83 L590.38 495.42 L591.37 496.04 L592.35 496.71 L593.34 497.40 L594.33 498.14 L595.32 498.91 L596.30 499.72 L597.29 500.57 L598.28 501.44 L599.27 502.36 L600.25 503.30 L601.24 504.27 L602.23 505.28 L603.22 506.31 L604.20 507.36 L605.19 508.44 L606.18 509.54 L607.17 510.66 L608.16 511.79 L609.14 512.93 L610.13 514.09 L611.12 515.25 L612.11 516.42 L613.09 517.58 L614.08 518.75 L615.07 519.91 L616.06 521.07 L617.04 522.21 L618.03 523.34 L619.02 524.46 L620.01 525.56 L621.00 526.64 L621.98 527.69 L622.97 528.72 L623.96 529.73 L624.95 530.70 L625.93 531.64 L626.92 532.56 L627.91 533.43 L628.90 534.28 L629.88 535.09 L630.87 535.86 L631.86 536.60 L632.85 537.29 L633.83 537.96 L634.82 538.58 L635.81 539.17 L636.80 539.72 L637.79 540.23 L638.77 540.70 L639.76 541.14 L640.75 541.55 L641.74 541.91 L642.72 542.25 L643.71 542.55 L644.70 542.81 L645.69 543.05 L646.67 543.25 L647.66 543.42 L648.65 543.56 L649.64 543.66 L650.62 543.74 L651.61 543.78 L652.60 543.80" stroke-width="11.70"/>
<path d="M337.20 501.25 L337.20 533.95" stroke-width="5.95"/>
<path d="M346.40 504.85 L346.40 530.35" stroke-width="5.95"/>
<path d="M355.60 512.05 L355.60 523.15" stroke-width="5.95"/>
<path d="M408.00 501.25 L408.00 533.95" stroke-width="5.95"/>
<path d="M417.20 501.25 L417.20 533.95" stroke-width="5.95"/>
<path d="M398.80 504.85 L398.80 530.35" stroke-width="5.95"/>
<path d="M426.40 504.85 L426.40 530.35" stroke-width="5.95"/>
<path d="M389.60 512.05 L389.60 523.15" stroke-width="5.95"/>
<path d="M435.60 512.05 L435.60 523.15" stroke-width="5.95"/>
<path d="M488.00 501.25 L488.00 533.95" stroke-width="5.95"/>
<path d="M497.20 501.25 L497.20 533.95" stroke-width="5.95"/>
<path d="M478.80 504.85 L478.80 530.35" stroke-width="5.95"/>
<path d="M506.40 504.85 L506.40 530.35" stroke-width="5.95"/>
<path d="M469.60 512.05 L469.60 523.15" stroke-width="5.95"/>
<path d="M515.60 512.05 L515.60 523.15" stroke-width="5.95"/>
<path d="M568.00 501.25 L568.00 533.95" stroke-width="5.95"/>
<path d="M577.20 501.25 L577.20 533.95" stroke-width="5.95"/>
<path d="M558.80 504.85 L558.80 530.35" stroke-width="5.95"/>
<path d="M586.40 504.85 L586.40 530.35" stroke-width="5.95"/>
<path d="M549.60 512.05 L549.60 523.15" stroke-width="5.95"/>
<path d="M595.60 512.05 L595.60 523.15" stroke-width="5.95"/>
<path d="M648.00 501.25 L648.00 533.95" stroke-width="5.95"/>
<path d="M638.80 504.85 L638.80 530.35" stroke-width="5.95"/>
<path d="M629.60 512.05 L629.60 523.15" stroke-width="5.95"/>
</g>
<g fill="none" stroke-linecap="round">
<path d="M337.20 501.25 L337.20 533.95" stroke="#b02229" stroke-width="3.95"/>
<path d="M346.40 504.85 L346.40 530.35" stroke="#b02229" stroke-width="3.95"/>
<path d="M355.60 512.05 L355.60 523.15" stroke="#b02229" stroke-width="3.95"/>
<path d="M408.00 501.25 L408.00 533.95" stroke="#b02229" stroke-width="3.95"/>
<path d="M417.20 501.25 L417.20 533.95" stroke="#b02229" stroke-width="3.95"/>
<path d="M398.80 504.85 L398.80 530.35" stroke="#b02229" stroke-width="3.95"/>
<path d="M426.40 504.85 L426.40 530.35" stroke="#b02229" stroke-width="3.95"/>
<path d="M389.60 512.05 L389.60 523.15" stroke="#b02229" stroke-width="3.95"/>
<path d="M435.60 512.05 L435.60 523.15" stroke="#b02229" stroke-width="3.95"/>
<path d="M488.00 501.25 L488.00 533.95" stroke="#b02229" stroke-width="3.95"/>
<path d="M497.20 501.25 L497.20 533.95" stroke="#b02229" stroke-width="3.95"/>
<path d="M478.80 504.85 L478.80 530.35" stroke="#b02229" stroke-width="3.95"/>
<path d="M506.40 504.85 L506.40 530.35" stroke="#b02229" stroke-width="3.95"/>
<path d="M469.60 512.05 L469.60 523.15" stroke="#b02229" stroke-width="3.95"/>
<path d="M515.60 512.05 L515.60 523.15" stroke="#b02229" stroke-width="3.95"/>
<path d="M568.00 501.25 L568.00 533.95" stroke="#b02229" stroke-width="3.95"/>
<path d="M577.20 501.25 L577.20 533.95" stroke="#b02229" stroke-width="3.95"/>
<path d="M558.80 504.85 L558.80 530.35" stroke="#b02229" stroke-width="3.95"/>
<path d="M586.40 504.85 L586.40 530.35" stroke="#b02229" stroke-width="3.95"/>
<path d="M549.60 512.05 L549.60 523.15" stroke="#b02229" stroke-width="3.95"/>
<path d="M595.60 512.05 L595.60 523.15" stroke="#b02229" stroke-width="3.95"/>
<path d="M648.00 501.25 L648.00 533.95" stroke="#b02229" stroke-width="3.95"/>
<path d="M638.80 504.85 L638.80 530.35" stroke="#b02229" stroke-width="3.95"/>
<path d="M629.60 512.05 L629.60 523.15" stroke="#b02229" stroke-width="3.95"/>
<path d="M332.60 543.80 L333.59 543.78 L334.58 543.74 L335.56 543.66 L336.55 543.56 L337.54 543.42 L338.53 543.25 L339.51 543.05 L340.50 542.81 L341.49 542.55 L342.48 542.25 L343.46 541.91 L344.45 541.55 L345.44 541.14 L346.43 540.70 L347.41 540.23 L348.40 539.72 L349.39 539.17 L350.38 538.58 L351.37 537.96 L352.35 537.29 L353.34 536.60 L354.33 535.86 L355.32 535.09 L356.30 534.28 L357.29 533.43 L358.28 532.56 L359.27 531.64 L360.25 530.70 L361.24 529.73 L362.23 528.72 L363.22 527.69 L364.20 526.64 L365.19 525.56 L366.18 524.46 L367.17 523.34 L368.16 522.21 L369.14 521.07 L370.13 519.91 L371.12 518.75 L372.11 517.58 L373.09 516.42 L374.08 515.25 L375.07 514.09 L376.06 512.93 L377.04 511.79 L378.03 510.66 L379.02 509.54 L380.01 508.44 L381.00 507.36 L381.98 506.31 L382.97 505.28 L383.96 504.27 L384.95 503.30 L385.93 502.36 L386.92 501.44 L387.91 500.57 L388.90 499.72 L389.88 498.91 L390.87 498.14 L391.86 497.40 L392.85 496.71 L393.83 496.04 L394.82 495.42 L395.81 494.83 L396.80 494.28 L397.79 493.77 L398.77 493.30 L399.76 492.86 L400.75 492.45 L401.74 492.09 L402.72 491.75 L403.71 491.45 L404.70 491.19 L405.69 490.95 L406.67 490.75 L407.66 490.58 L408.65 490.44 L409.64 490.34 L410.62 490.26 L411.61 490.22 L412.60 490.20" stroke="#b02229" stroke-width="9.70"/>
<path d="M412.60 543.80 L413.59 543.78 L414.58 543.74 L415.56 543.66 L416.55 543.56 L417.54 543.42 L418.53 543.25 L419.51 543.05 L420.50 542.81 L421.49 542.55 L422.48 542.25 L423.46 541.91 L424.45 541.55 L425.44 541.14 L426.43 540.70 L427.41 540.23 L428.40 539.72 L429.39 539.17 L430.38 538.58 L431.37 537.96 L432.35 537.29 L433.34 536.60 L434.33 535.86 L435.32 535.09 L436.30 534.28 L437.29 533.43 L438.28 532.56 L439.27 531.64 L440.25 530.70 L441.24 529.73 L442.23 528.72 L443.22 527.69 L444.20 526.64 L445.19 525.56 L446.18 524.46 L447.17 523.34 L448.16 522.21 L449.14 521.07 L450.13 519.91 L451.12 518.75 L452.11 517.58 L453.09 516.42 L454.08 515.25 L455.07 514.09 L456.06 512.93 L457.04 511.79 L458.03 510.66 L459.02 509.54 L460.01 508.44 L461.00 507.36 L461.98 506.31 L462.97 505.28 L463.96 504.27 L464.95 503.30 L465.93 502.36 L466.92 501.44 L467.91 500.57 L468.90 499.72 L469.88 498.91 L470.87 498.14 L471.86 497.40 L472.85 496.71 L473.83 496.04 L474.82 495.42 L475.81 494.83 L476.80 494.28 L477.79 493.77 L478.77 493.30 L479.76 492.86 L480.75 492.45 L481.74 492.09 L482.72 491.75 L483.71 491.45 L484.70 491.19 L485.69 490.95 L486.67 490.75 L487.66 490.58 L488.65 490.44 L489.64 490.34 L490.62 490.26 L491.61 490.22 L492.60 490.20" stroke="#b02229" stroke-width="9.70"/>
<path d="M492.60 543.80 L493.59 543.78 L494.58 543.74 L495.56 543.66 L496.55 543.56 L497.54 543.42 L498.53 543.25 L499.51 543.05 L500.50 542.81 L501.49 542.55 L502.48 542.25 L503.46 541.91 L504.45 541.55 L505.44 541.14 L506.43 540.70 L507.41 540.23 L508.40 539.72 L509.39 539.17 L510.38 538.58 L511.37 537.96 L512.35 537.29 L513.34 536.60 L514.33 535.86 L515.32 535.09 L516.30 534.28 L517.29 533.43 L518.28 532.56 L519.27 531.64 L520.25 530.70 L521.24 529.73 L522.23 528.72 L523.22 527.69 L524.20 526.64 L525.19 525.56 L526.18 524.46 L527.17 523.34 L528.16 522.21 L529.14 521.07 L530.13 519.91 L531.12 518.75 L532.11 517.58 L533.09 516.42 L534.08 515.25 L535.07 514.09 L536.06 512.93 L537.04 511.79 L538.03 510.66 L539.02 509.54 L540.01 508.44 L541.00 507.36 L541.98 506.31 L542.97 505.28 L543.96 504.27 L544.95 503.30 L545.93 502.36 L546.92 501.44 L547.91 500.57 L548.90 499.72 L549.88 498.91 L550.87 498.14 L551.86 497.40 L552.85 496.71 L553.83 496.04 L554.82 495.42 L555.81 494.83 L556.80 494.28 L557.79 493.77 L558.77 493.30 L559.76 492.86 L560.75 492.45 L561.74 492.09 L562.72 491.75 L563.71 491.45 L564.70 491.19 L565.69 490.95 L566.67 490.75 L567.66 490.58 L568.65 490.44 L569.64 490.34 L570.62 490.26 L571.61 490.22 L572.60 490.20" stroke="#b02229" stroke-width="9.70"/>
<path d="M572.60 543.80 L573.59 543.78 L574.58 543.74 L575.56 543.66 L576.55 543.56 L577.54 543.42 L578.53 543.25 L579.51 543.05 L580.50 542.81 L581.49 542.55 L582.48 542.25 L583.46 541.91 L584.45 541.55 L585.44 541.14 L586.43 540.70 L587.41 540.23 L588.40 539.72 L589.39 539.17 L590.38 538.58 L591.37 537.96 L592.35 537.29 L593.34 536.60 L594.33 535.86 L595.32 535.09 L596.30 534.28 L597.29 533.43 L598.28 532.56 L599.27 531.64 L600.25 530.70 L601.24 529.73 L602.23 528.72 L603.22 527.69 L604.20 526.64 L605.19 525.56 L606.18 524.46 L607.17 523.34 L608.16 522.21 L609.14 521.07 L610.13 519.91 L611.12 518.75 L612.11 517.58 L613.09 516.42 L614.08 515.25 L615.07 514.09 L616.06 512.93 L617.04 511.79 L618.03 510.66 L619.02 509.54 L620.01 508.44 L621.00 507.36 L621.98 506.31 L622.97 505.28 L623.96 504.27 L624.95 503.30 L625.93 502.36 L626.92 501.44 L627.91 500.57 L628.90 499.72 L629.88 498.91 L630.87 498.14 L631.86 497.40 L632.85 496.71 L633.83 496.04 L634.82 495.42 L635.81 494.83 L636.80 494.28 L637.79 493.77 L638.77 493.30 L639.76 492.86 L640.75 492.45 L641.74 492.09 L642.72 491.75 L643.71 491.45 L644.70 491.19 L645.69 490.95 L646.67 490.75 L647.66 490.58 L648.65 490.44 L649.64 490.34 L650.62 490.26 L651.61 490.22 L652.60 490.20" stroke="#b02229" stroke-width="9.70"/>
<path d="M365.60 508.89 L366.08 509.43 L366.57 509.97 L367.05 510.52 L367.53 511.07 L368.01 511.62 L368.50 512.18 L368.98 512.74 L369.46 513.30 L369.94 513.87 L370.43 514.44 L370.91 515.00 L371.39 515.57 L371.88 516.14 L372.36 516.71 L372.84 517.29 L373.32 517.86 L373.81 518.43 L374.29 519.00 L374.77 519.56 L375.26 520.13 L375.74 520.70 L376.22 521.26 L376.70 521.82 L377.19 522.38 L377.67 522.93 L378.15 523.48 L378.63 524.03 L379.12 524.57 L379.60 525.11" stroke="#f4f2f1" stroke-linecap="butt" stroke-width="15.10"/>
<path d="M332.60 490.20 L333.59 490.22 L334.58 490.26 L335.56 490.34 L336.55 490.44 L337.54 490.58 L338.53 490.75 L339.51 490.95 L340.50 491.19 L341.49 491.45 L342.48 491.75 L343.46 492.09 L344.45 492.45 L345.44 492.86 L346.43 493.30 L347.41 493.77 L348.40 494.28 L349.39 494.83 L350.38 495.42 L351.37 496.04 L352.35 496.71 L353.34 497.40 L354.33 498.14 L355.32 498.91 L356.30 499.72 L357.29 500.57 L358.28 501.44 L359.27 502.36 L360.25 503.30 L361.24 504.27 L362.23 505.28 L363.22 506.31 L364.20 507.36 L365.19 508.44 L366.18 509.54 L367.17 510.66 L368.16 511.79 L369.14 512.93 L370.13 514.09 L371.12 515.25 L372.11 516.42 L373.09 517.58 L374.08 518.75 L375.07 519.91 L376.06 521.07 L377.04 522.21 L378.03 523.34 L379.02 524.46 L380.01 525.56 L381.00 526.64 L381.98 527.69 L382.97 528.72 L383.96 529.73 L384.95 530.70 L385.93 531.64 L386.92 532.56 L387.91 533.43 L388.90 534.28 L389.88 535.09 L390.87 535.86 L391.86 536.60 L392.85 537.29 L393.83 537.96 L394.82 538.58 L395.81 539.17 L396.80 539.72 L397.79 540.23 L398.77 540.70 L399.76 541.14 L400.75 541.55 L401.74 541.91 L402.72 542.25 L403.71 542.55 L404.70 542.81 L405.69 543.05 L406.67 543.25 L407.66 543.42 L408.65 543.56 L409.64 543.66 L410.62 543.74 L411.61 543.78 L412.60 543.80" stroke="#b02229" stroke-width="9.70"/>
<path d="M445.60 508.89 L446.08 509.43 L446.57 509.97 L447.05 510.52 L447.53 511.07 L448.01 511.62 L448.50 512.18 L448.98 512.74 L449.46 513.30 L449.94 513.87 L450.43 514.44 L450.91 515.00 L451.39 515.57 L451.88 516.14 L452.36 516.71 L452.84 517.29 L453.32 517.86 L453.81 518.43 L454.29 519.00 L454.77 519.56 L455.26 520.13 L455.74 520.70 L456.22 521.26 L456.70 521.82 L457.19 522.38 L457.67 522.93 L458.15 523.48 L458.63 524.03 L459.12 524.57 L459.60 525.11" stroke="#f4f2f1" stroke-linecap="butt" stroke-width="15.10"/>
<path d="M412.60 490.20 L413.59 490.22 L414.58 490.26 L415.56 490.34 L416.55 490.44 L417.54 490.58 L418.53 490.75 L419.51 490.95 L420.50 491.19 L421.49 491.45 L422.48 491.75 L423.46 492.09 L424.45 492.45 L425.44 492.86 L426.43 493.30 L427.41 493.77 L428.40 494.28 L429.39 494.83 L430.38 495.42 L431.37 496.04 L432.35 496.71 L433.34 497.40 L434.33 498.14 L435.32 498.91 L436.30 499.72 L437.29 500.57 L438.28 501.44 L439.27 502.36 L440.25 503.30 L441.24 504.27 L442.23 505.28 L443.22 506.31 L444.20 507.36 L445.19 508.44 L446.18 509.54 L447.17 510.66 L448.16 511.79 L449.14 512.93 L450.13 514.09 L451.12 515.25 L452.11 516.42 L453.09 517.58 L454.08 518.75 L455.07 519.91 L456.06 521.07 L457.04 522.21 L458.03 523.34 L459.02 524.46 L460.01 525.56 L461.00 526.64 L461.98 527.69 L462.97 528.72 L463.96 529.73 L464.95 530.70 L465.93 531.64 L466.92 532.56 L467.91 533.43 L468.90 534.28 L469.88 535.09 L470.87 535.86 L471.86 536.60 L472.85 537.29 L473.83 537.96 L474.82 538.58 L475.81 539.17 L476.80 539.72 L477.79 540.23 L478.77 540.70 L479.76 541.14 L480.75 541.55 L481.74 541.91 L482.72 542.25 L483.71 542.55 L484.70 542.81 L485.69 543.05 L486.67 543.25 L487.66 543.42 L488.65 543.56 L489.64 543.66 L490.62 543.74 L491.61 543.78 L492.60 543.80" stroke="#b02229" stroke-width="9.70"/>
<path d="M525.60 508.89 L526.08 509.43 L526.57 509.97 L527.05 510.52 L527.53 511.07 L528.01 511.62 L528.50 512.18 L528.98 512.74 L529.46 513.30 L529.94 513.87 L530.43 514.44 L530.91 515.00 L531.39 515.57 L531.88 516.14 L532.36 516.71 L532.84 517.29 L533.32 517.86 L533.81 518.43 L534.29 519.00 L534.77 519.56 L535.26 520.13 L535.74 520.70 L536.22 521.26 L536.70 521.82 L537.19 522.38 L537.67 522.93 L538.15 523.48 L538.63 524.03 L539.12 524.57 L539.60 525.11" stroke="#f4f2f1" stroke-linecap="butt" stroke-width="15.10"/>
<path d="M492.60 490.20 L493.59 490.22 L494.58 490.26 L495.56 490.34 L496.55 490.44 L497.54 490.58 L498.53 490.75 L499.51 490.95 L500.50 491.19 L501.49 491.45 L502.48 491.75 L503.46 492.09 L504.45 492.45 L505.44 492.86 L506.43 493.30 L507.41 493.77 L508.40 494.28 L509.39 494.83 L510.38 495.42 L511.37 496.04 L512.35 496.71 L513.34 497.40 L514.33 498.14 L515.32 498.91 L516.30 499.72 L517.29 500.57 L518.28 501.44 L519.27 502.36 L520.25 503.30 L521.24 504.27 L522.23 505.28 L523.22 506.31 L524.20 507.36 L525.19 508.44 L526.18 509.54 L527.17 510.66 L528.16 511.79 L529.14 512.93 L530.13 514.09 L531.12 515.25 L532.11 516.42 L533.09 517.58 L534.08 518.75 L535.07 519.91 L536.06 521.07 L537.04 522.21 L538.03 523.34 L539.02 524.46 L540.01 525.56 L541.00 526.64 L541.98 527.69 L542.97 528.72 L543.96 529.73 L544.95 530.70 L545.93 531.64 L546.92 532.56 L547.91 533.43 L548.90 534.28 L549.88 535.09 L550.87 535.86 L551.86 536.60 L552.85 537.29 L553.83 537.96 L554.82 538.58 L555.81 539.17 L556.80 539.72 L557.79 540.23 L558.77 540.70 L559.76 541.14 L560.75 541.55 L561.74 541.91 L562.72 542.25 L563.71 542.55 L564.70 542.81 L565.69 543.05 L566.67 543.25 L567.66 543.42 L568.65 543.56 L569.64 543.66 L570.62 543.74 L571.61 543.78 L572.60 543.80" stroke="#b02229" stroke-width="9.70"/>
<path d="M605.60 508.89 L606.08 509.43 L606.57 509.97 L607.05 510.52 L607.53 511.07 L608.01 511.62 L608.50 512.18 L608.98 512.74 L609.46 513.30 L609.94 513.87 L610.43 514.44 L610.91 515.00 L611.39 515.57 L611.88 516.14 L612.36 516.71 L612.84 517.29 L613.32 517.86 L613.81 518.43 L614.29 519.00 L614.77 519.56 L615.26 520.13 L615.74 520.70 L616.22 521.26 L616.70 521.82 L617.19 522.38 L617.67 522.93 L618.15 523.48 L618.63 524.03 L619.12 524.57 L619.60 525.11" stroke="#f4f2f1" stroke-linecap="butt" stroke-width="15.10"/>
<path d="M572.60 490.20 L573.59 490.22 L574.58 490.26 L575.56 490.34 L576.55 490.44 L577.54 490.58 L578.53 490.75 L579.51 490.95 L580.50 491.19 L581.49 491.45 L582.48 491.75 L583.46 492.09 L584.45 492.45 L585.44 492.86 L586.43 493.30 L587.41 493.77 L588.40 494.28 L589.39 494.83 L590.38 495.42 L591.37 496.04 L592.35 496.71 L593.34 497.40 L594.33 498.14 L595.32 498.91 L596.30 499.72 L597.29 500.57 L598.28 501.44 L599.27 502.36 L600.25 503.30 L601.24 504.27 L602.23 505.28 L603.22 506.31 L604.20 507.36 L605.19 508.44 L606.18 509.54 L607.17 510.66 L608.16 511.79 L609.14 512.93 L610.13 514.09 L611.12 515.25 L612.11 516.42 L613.09 517.58 L614.08 518.75 L615.07 519.91 L616.06 521.07 L617.04 522.21 L618.03 523.34 L619.02 524.46 L620.01 525.56 L621.00 526.64 L621.98 527.69 L622.97 528.72 L623.96 529.73 L624.95 530.70 L625.93 531.64 L626.92 532.56 L627.91 533.43 L628.90 534.28 L629.88 535.09 L630.87 535.86 L631.86 536.60 L632.85 537.29 L633.83 537.96 L634.82 538.58 L635.81 539.17 L636.80 539.72 L637.79 540.23 L638.77 540.70 L639.76 541.14 L640.75 541.55 L641.74 541.91 L642.72 542.25 L643.71 542.55 L644.70 542.81 L645.69 543.05 L646.67 543.25 L647.66 543.42 L648.65 543.56 L649.64 543.66 L650.62 543.74 L651.61 543.78 L652.60 543.80" stroke="#b02229" stroke-width="9.70"/>
</g></g><g fill="#a9a9a9"><rect x="533.5" y="457.3" width="1.4" height="59"/><rect x="550.1" y="462.6" width="1.4" height="39.4"/><rect x="589.9" y="468.9" width="1.4" height="33"/><rect x="613" y="462.7" width="1.4" height="60"/></g>
</svg>
<div class="t" style="left:42.5px;top:40.5px;font-size:22.6px;font-weight:bold;font-style:normal;color:#0a0a0a;-webkit-text-stroke:1.0px #0a0a0a;letter-spacing:0.9px;transform:scaleX(0.8615)">ASÍ FUNCIONA LA TÉCNICA CRISPR/CAS9</div><div class="t" style="left:42.9px;top:91.55px;font-size:17.5px;font-weight:normal;font-style:normal;color:#111;-webkit-text-stroke:0.5px #111;letter-spacing:0.15px;transform:scaleX(0.9459)"><b>1)</b> Detección de una secuencia de genes.</div><div class="t" style="left:494.6px;top:93.55px;font-size:17.5px;font-weight:normal;font-style:normal;color:#111;-webkit-text-stroke:0.5px #111;letter-spacing:0.15px;transform:scaleX(0.9475)"><b>2)</b> Se construye un ARN que unido a las proteinas Cas</div><div class="t" style="left:514.3px;top:116.55px;font-size:17.5px;font-weight:normal;font-style:normal;color:#111;-webkit-text-stroke:0.5px #111;letter-spacing:0.15px;transform:scaleX(0.9628)">se convierte en una herramienta capaz de detectar</div><div class="t" style="left:514.3px;top:139.55px;font-size:17.5px;font-weight:normal;font-style:normal;color:#111;-webkit-text-stroke:0.5px #111;letter-spacing:0.15px;transform:scaleX(0.9671)">una secuencia determinada de ADN y cortarla.</div><div class="t" style="left:259.8px;top:362.55px;font-size:17.5px;font-weight:normal;font-style:normal;color:#111;-webkit-text-stroke:0.5px #111;letter-spacing:0.15px;transform:scaleX(0.9561)"><b>3)</b> Otra opción podría ser anular el gen en vez de cortarlo.</div><div class="t" style="left:278.75px;top:571.55px;font-size:17.5px;font-weight:normal;font-style:normal;color:#111;-webkit-text-stroke:0.5px #111;letter-spacing:0.15px;transform:scaleX(0.9789)">Reemplazo con un fragmento de ADN modificado.</div><div class="t" style="left:150.4px;top:182.9px;font-size:22.8px;font-weight:bold;font-style:normal;color:#373737;-webkit-text-stroke:0.8px #373737;letter-spacing:0.6px;transform:scaleX(0.8765)">ARN</div><div class="t" style="left:202.0px;top:182.9px;font-size:22.8px;font-weight:bold;font-style:normal;color:#373737;-webkit-text-stroke:0.8px #373737;letter-spacing:0px;transform:scaleX(0.7643)">+</div><div class="t" style="left:218.9px;top:182.9px;font-size:22.8px;font-weight:bold;font-style:normal;color:#373737;-webkit-text-stroke:0.8px #373737;letter-spacing:0.6px;transform:scaleX(0.8023)">Cas</div><div class="t" style="left:506.9px;top:198.4px;font-size:17.8px;font-weight:bold;font-style:normal;color:#0a0a0a;-webkit-text-stroke:0.6px #0a0a0a;letter-spacing:0.5px;transform:scaleX(0.8531)">Corte de una secuencia</div><div class="t" style="left:778.4px;top:192.9px;font-size:22.8px;font-weight:bold;font-style:normal;color:#373737;-webkit-text-stroke:0.8px #373737;letter-spacing:0.6px;transform:scaleX(0.8667)">ARN</div><div class="t" style="left:830.2px;top:192.9px;font-size:22.8px;font-weight:bold;font-style:normal;color:#373737;-webkit-text-stroke:0.8px #373737;letter-spacing:0px;transform:scaleX(0.7143)">+</div><div class="t" style="left:847.0px;top:192.9px;font-size:22.8px;font-weight:bold;font-style:normal;color:#373737;-webkit-text-stroke:0.8px #373737;letter-spacing:0.6px;transform:scaleX(0.8023)">Cas</div><div class="t" style="left:439.2px;top:420.7px;font-size:17.2px;font-weight:bold;font-style:normal;color:#0a0a0a;-webkit-text-stroke:0.6px #0a0a0a;letter-spacing:0.5px;transform:scaleX(0.8776)">Reparación</div><div class="t" style="left:781.25px;top:604.35px;font-size:13.9px;font-weight:normal;font-style:italic;color:#222;-webkit-text-stroke:0.2px #222;letter-spacing:0px;transform:scaleX(0.893)">Fuentes: Diario EL PAÍS</div>
</body></html>
